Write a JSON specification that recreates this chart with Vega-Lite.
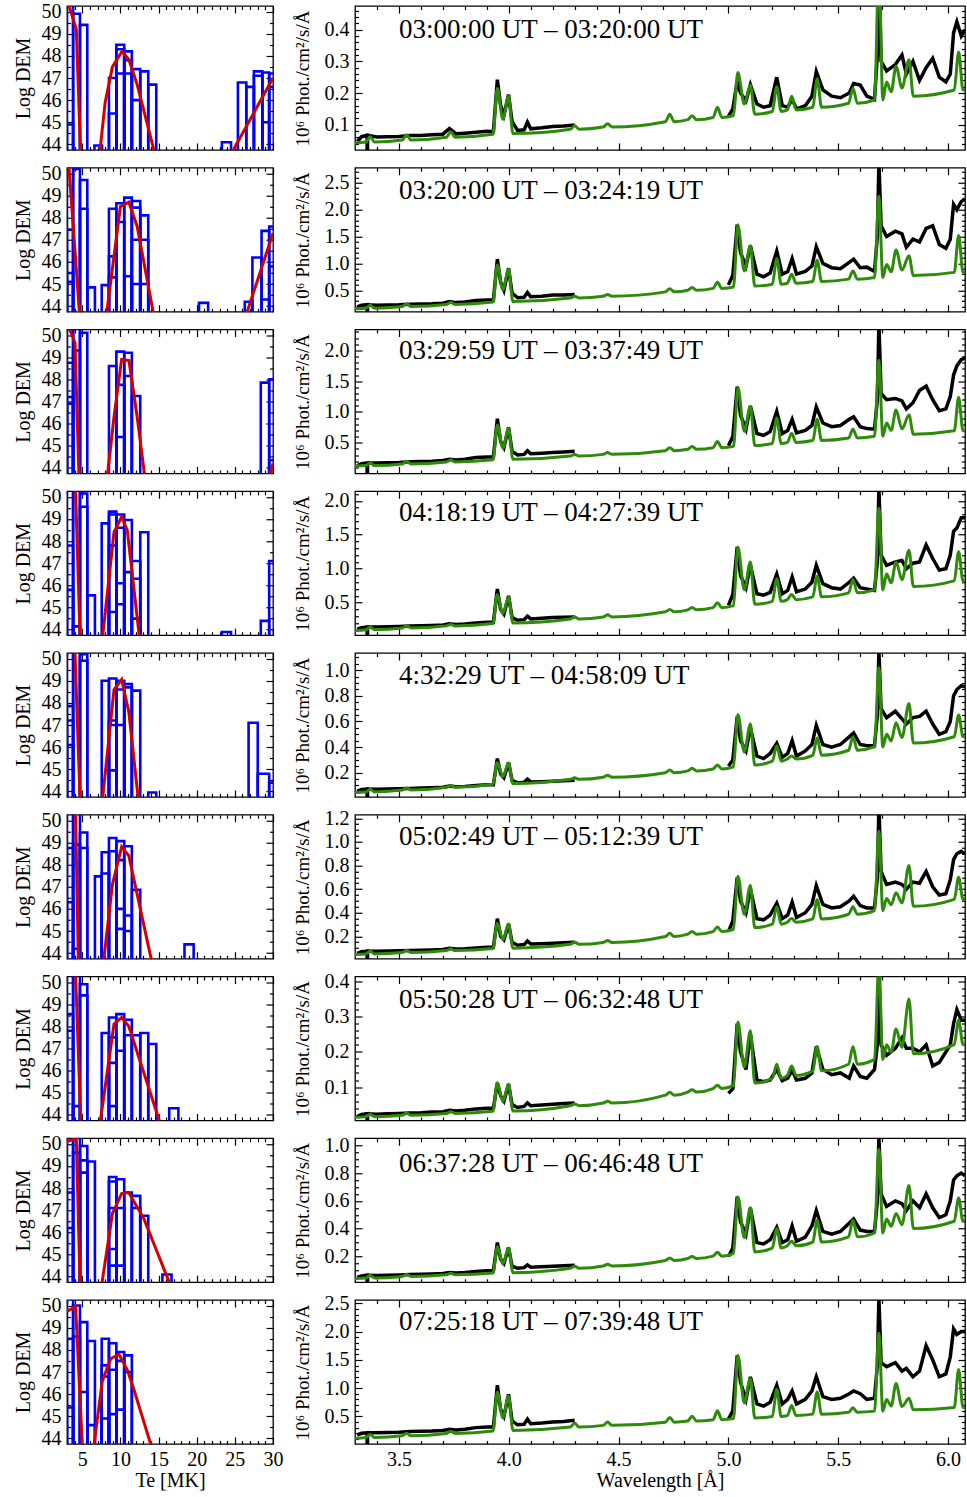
{
"$schema":"https://vega.github.io/schema/vega-lite/v6.json",
"autosize":{"type":"pad"},
"padding":{"left":12,"top":0,"right":1,"bottom":2},
"config":{
 "font":"Liberation Serif",
 "view":{"stroke":"#000000","strokeWidth":1.3},
 "axis":{"domain":false,"grid":false,"tickColor":"#000000","tickWidth":1.2,"labelFontSize":20,"labelColor":"#000000","labelFont":"Liberation Serif","titleFont":"Liberation Serif","titleFontSize":20,"titleFontWeight":"normal","titleColor":"#000000","labelPadding":13,"labelOverlap":false,"labelFlush":false,"labelBound":false},
 "title":{"font":"Liberation Serif","fontSize":27,"fontWeight":"normal","color":"#000000"}
},
"columns":2,
"bounds":"flush",
"spacing":{"row":17.75,"column":82},
"datasets":{
"dem":[
{"p":1,"a":3.0,"b":3.8,"t":50.4},{"p":1,"a":3.0,"b":3.8,"t":44.9},{"p":1,"a":3.8,"b":4.7,"t":49.9},{"p":1,"a":4.7,"b":5.66,"t":49.4},{"p":1,"a":6.6,"b":7.6,"t":43.95},{"p":1,"a":8.5,"b":9.47,"t":47.0},{"p":1,"a":8.5,"b":9.47,"t":45.4},{"p":1,"a":9.47,"b":10.5,"t":48.5},{"p":1,"a":9.47,"b":10.5,"t":48.3},{"p":1,"a":9.47,"b":10.5,"t":47.2},{"p":1,"a":10.5,"b":11.5,"t":48.2},{"p":1,"a":10.5,"b":11.5,"t":47.8},{"p":1,"a":10.5,"b":11.5,"t":47.2},{"p":1,"a":11.5,"b":12.6,"t":47.4},{"p":1,"a":11.5,"b":12.6,"t":46.0},{"p":1,"a":12.6,"b":13.65,"t":47.3},{"p":1,"a":13.65,"b":14.7,"t":46.7},{"p":1,"a":23.3,"b":24.5,"t":44.1},{"p":1,"a":25.4,"b":26.5,"t":46.8},{"p":1,"a":26.5,"b":27.5,"t":46.6},{"p":1,"a":27.5,"b":28.6,"t":47.3},{"p":1,"a":27.5,"b":28.6,"t":47.1},{"p":1,"a":28.6,"b":29.5,"t":47.25},{"p":1,"a":28.6,"b":29.5,"t":45.0},{"p":1,"a":29.5,"b":30.5,"t":47.2},{"p":1,"a":29.5,"b":30.5,"t":46.6},
{"p":2,"a":3.0,"b":3.8,"t":50.4},{"p":2,"a":3.0,"b":3.8,"t":47.45},{"p":2,"a":3.0,"b":3.8,"t":45.5},{"p":2,"a":3.0,"b":3.8,"t":45.1},{"p":2,"a":3.8,"b":4.7,"t":50.2},{"p":2,"a":4.7,"b":5.66,"t":49.7},{"p":2,"a":4.7,"b":5.66,"t":48.4},{"p":2,"a":5.66,"b":6.66,"t":44.85},{"p":2,"a":7.55,"b":8.5,"t":44.95},{"p":2,"a":8.5,"b":9.47,"t":48.4},{"p":2,"a":8.5,"b":9.47,"t":46.25},{"p":2,"a":8.5,"b":9.47,"t":45.3},{"p":2,"a":9.47,"b":10.5,"t":48.65},{"p":2,"a":9.47,"b":10.5,"t":47.8},{"p":2,"a":10.5,"b":11.5,"t":48.9},{"p":2,"a":10.5,"b":11.5,"t":45.35},{"p":2,"a":11.5,"b":12.6,"t":48.75},{"p":2,"a":11.5,"b":12.6,"t":48.45},{"p":2,"a":11.5,"b":12.6,"t":47.0},{"p":2,"a":11.5,"b":12.6,"t":45.0},{"p":2,"a":12.6,"b":13.65,"t":48.1},{"p":2,"a":12.6,"b":13.65,"t":47.0},{"p":2,"a":12.6,"b":13.65,"t":45.0},{"p":2,"a":20.3,"b":21.5,"t":44.15},{"p":2,"a":26.3,"b":27.3,"t":44.2},{"p":2,"a":27.3,"b":28.5,"t":46.2},{"p":2,"a":28.5,"b":29.5,"t":47.4},{"p":2,"a":28.5,"b":29.5,"t":44.3},{"p":2,"a":29.5,"b":30.5,"t":47.6},{"p":2,"a":29.5,"b":30.5,"t":45.8},
{"p":3,"a":3.0,"b":3.8,"t":50.4},{"p":3,"a":3.0,"b":3.8,"t":48.75},{"p":3,"a":3.0,"b":3.8,"t":47.2},{"p":3,"a":3.0,"b":3.8,"t":46.9},{"p":3,"a":3.8,"b":4.7,"t":50.3},{"p":3,"a":3.8,"b":4.7,"t":49.3},{"p":3,"a":4.7,"b":5.66,"t":50.1},{"p":3,"a":8.5,"b":9.47,"t":48.6},{"p":3,"a":9.47,"b":10.5,"t":49.25},{"p":3,"a":9.47,"b":10.5,"t":47.75},{"p":3,"a":9.47,"b":10.5,"t":45.4},{"p":3,"a":10.5,"b":11.5,"t":49.2},{"p":3,"a":10.5,"b":11.5,"t":48.15},{"p":3,"a":11.5,"b":12.6,"t":47.25},{"p":3,"a":28.4,"b":29.5,"t":47.85},{"p":3,"a":29.5,"b":30.5,"t":48.0},{"p":3,"a":29.5,"b":30.5,"t":44.35},
{"p":4,"a":3.0,"b":3.8,"t":50.4},{"p":4,"a":3.0,"b":3.8,"t":47.8},{"p":4,"a":3.0,"b":3.8,"t":45.8},{"p":4,"a":3.8,"b":4.7,"t":50.4},{"p":4,"a":3.8,"b":4.7,"t":44.15},{"p":4,"a":4.7,"b":5.66,"t":50.15},{"p":4,"a":4.7,"b":5.66,"t":49.55},{"p":4,"a":5.66,"b":6.66,"t":45.55},{"p":4,"a":7.55,"b":8.5,"t":48.8},{"p":4,"a":8.5,"b":9.47,"t":49.33},{"p":4,"a":8.5,"b":9.47,"t":49.2},{"p":4,"a":8.5,"b":9.47,"t":47.8},{"p":4,"a":8.5,"b":9.47,"t":44.8},{"p":4,"a":9.47,"b":10.5,"t":49.2},{"p":4,"a":9.47,"b":10.5,"t":48.6},{"p":4,"a":9.47,"b":10.5,"t":46.1},{"p":4,"a":9.47,"b":10.5,"t":45.15},{"p":4,"a":10.5,"b":11.5,"t":48.95},{"p":4,"a":10.5,"b":11.5,"t":46.6},{"p":4,"a":11.5,"b":12.6,"t":47.1},{"p":4,"a":11.5,"b":12.6,"t":46.3},{"p":4,"a":11.5,"b":12.6,"t":44.5},{"p":4,"a":12.6,"b":13.65,"t":48.4},{"p":4,"a":23.3,"b":24.5,"t":43.9},{"p":4,"a":28.4,"b":29.5,"t":44.4},{"p":4,"a":29.5,"b":30.5,"t":47.1},
{"p":5,"a":3.0,"b":3.8,"t":50.4},{"p":5,"a":3.0,"b":3.8,"t":47.85},{"p":5,"a":3.0,"b":3.8,"t":47.2},{"p":5,"a":3.0,"b":3.8,"t":46.1},{"p":5,"a":3.8,"b":4.7,"t":50.4},{"p":5,"a":4.7,"b":5.66,"t":50.2},{"p":5,"a":4.7,"b":5.66,"t":49.9},{"p":5,"a":7.55,"b":8.5,"t":49.0},{"p":5,"a":8.5,"b":9.47,"t":49.1},{"p":5,"a":8.5,"b":9.47,"t":47.2},{"p":5,"a":8.5,"b":9.47,"t":47.0},{"p":5,"a":8.5,"b":9.47,"t":44.95},{"p":5,"a":9.47,"b":10.5,"t":49.0},{"p":5,"a":9.47,"b":10.5,"t":48.6},{"p":5,"a":9.47,"b":10.5,"t":47.0},{"p":5,"a":10.5,"b":11.5,"t":48.85},{"p":5,"a":10.5,"b":11.5,"t":48.7},{"p":5,"a":11.5,"b":12.6,"t":48.55},{"p":5,"a":13.65,"b":14.7,"t":43.95},{"p":5,"a":26.8,"b":28.0,"t":47.1},{"p":5,"a":28.0,"b":29.5,"t":44.8},{"p":5,"a":29.5,"b":30.5,"t":44.4},
{"p":6,"a":3.0,"b":3.8,"t":50.4},{"p":6,"a":3.0,"b":3.8,"t":48.75},{"p":6,"a":3.0,"b":3.8,"t":46.3},{"p":6,"a":3.8,"b":4.7,"t":50.4},{"p":6,"a":3.8,"b":4.7,"t":48.9},{"p":6,"a":3.8,"b":4.7,"t":44.2},{"p":6,"a":4.7,"b":5.66,"t":49.45},{"p":6,"a":4.7,"b":5.66,"t":48.75},{"p":6,"a":6.66,"b":7.55,"t":47.47},{"p":6,"a":7.55,"b":8.5,"t":48.56},{"p":6,"a":7.55,"b":8.5,"t":47.6},{"p":6,"a":8.5,"b":9.47,"t":49.2},{"p":6,"a":8.5,"b":9.47,"t":48.6},{"p":6,"a":9.47,"b":10.5,"t":49.06},{"p":6,"a":9.47,"b":10.5,"t":48.2},{"p":6,"a":9.47,"b":10.5,"t":46.0},{"p":6,"a":9.47,"b":10.5,"t":45.1},{"p":6,"a":10.5,"b":11.5,"t":48.83},{"p":6,"a":10.5,"b":11.5,"t":45.7},{"p":6,"a":10.5,"b":11.5,"t":45.0},{"p":6,"a":11.5,"b":12.6,"t":46.86},{"p":6,"a":18.4,"b":19.6,"t":44.4},
{"p":7,"a":3.0,"b":3.8,"t":50.4},{"p":7,"a":3.0,"b":3.8,"t":48.55},{"p":7,"a":3.0,"b":3.8,"t":47.8},{"p":7,"a":3.8,"b":4.7,"t":50.4},{"p":7,"a":3.8,"b":4.7,"t":44.4},{"p":7,"a":4.7,"b":5.66,"t":49.9},{"p":7,"a":4.7,"b":5.66,"t":49.4},{"p":7,"a":7.55,"b":8.5,"t":47.7},{"p":7,"a":8.5,"b":9.47,"t":48.4},{"p":7,"a":8.5,"b":9.47,"t":47.5},{"p":7,"a":8.5,"b":9.47,"t":46.35},{"p":7,"a":8.5,"b":9.47,"t":44.4},{"p":7,"a":9.47,"b":10.5,"t":48.55},{"p":7,"a":9.47,"b":10.5,"t":46.9},{"p":7,"a":10.5,"b":11.5,"t":48.3},{"p":7,"a":10.5,"b":11.5,"t":47.6},{"p":7,"a":11.5,"b":12.6,"t":47.6},{"p":7,"a":12.6,"b":13.65,"t":47.7},{"p":7,"a":13.65,"b":14.7,"t":47.2},{"p":7,"a":16.4,"b":17.6,"t":44.3},
{"p":8,"a":3.0,"b":3.8,"t":50.4},{"p":8,"a":3.0,"b":3.8,"t":47.8},{"p":8,"a":3.0,"b":3.8,"t":46.2},{"p":8,"a":3.8,"b":4.7,"t":50.4},{"p":8,"a":3.8,"b":4.7,"t":49.6},{"p":8,"a":4.7,"b":5.66,"t":49.9},{"p":8,"a":4.7,"b":5.66,"t":49.25},{"p":8,"a":4.7,"b":5.66,"t":48.7},{"p":8,"a":5.66,"b":6.66,"t":49.2},{"p":8,"a":8.5,"b":9.47,"t":48.5},{"p":8,"a":8.5,"b":9.47,"t":48.3},{"p":8,"a":8.5,"b":9.47,"t":47.1},{"p":8,"a":8.5,"b":9.47,"t":45.25},{"p":8,"a":8.5,"b":9.47,"t":44.5},{"p":8,"a":9.47,"b":10.5,"t":48.4},{"p":8,"a":9.47,"b":10.5,"t":47.1},{"p":8,"a":9.47,"b":10.5,"t":44.5},{"p":8,"a":10.5,"b":11.5,"t":47.8},{"p":8,"a":11.5,"b":12.6,"t":47.65},{"p":8,"a":11.5,"b":12.6,"t":47.1},{"p":8,"a":12.6,"b":13.65,"t":46.75},{"p":8,"a":15.5,"b":16.7,"t":44.1},
{"p":9,"a":3.0,"b":3.8,"t":50.6},{"p":9,"a":3.0,"b":3.8,"t":48.5},{"p":9,"a":3.0,"b":3.8,"t":45.4},{"p":9,"a":3.8,"b":4.7,"t":50.0},{"p":9,"a":3.8,"b":4.7,"t":48.6},{"p":9,"a":4.7,"b":5.66,"t":49.25},{"p":9,"a":4.7,"b":5.66,"t":46.1},{"p":9,"a":5.66,"b":6.66,"t":48.4},{"p":9,"a":5.66,"b":6.66,"t":44.6},{"p":9,"a":7.55,"b":8.5,"t":48.5},{"p":9,"a":7.55,"b":8.5,"t":47.3},{"p":9,"a":7.55,"b":8.5,"t":46.8},{"p":9,"a":7.55,"b":8.5,"t":44.9},{"p":9,"a":8.5,"b":9.47,"t":48.3},{"p":9,"a":8.5,"b":9.47,"t":47.1},{"p":9,"a":8.5,"b":9.47,"t":45.1},{"p":9,"a":9.47,"b":10.5,"t":47.9},{"p":9,"a":9.47,"b":10.5,"t":47.5},{"p":9,"a":9.47,"b":10.5,"t":45.3},{"p":9,"a":10.5,"b":11.5,"t":47.75},{"p":9,"a":10.5,"b":11.5,"t":47.0}
],
"fit":[
{"p":1,"s":"a","t":3.0,"d":50.56},{"p":1,"s":"a","t":4.22,"d":49.2},{"p":1,"s":"a","t":4.84,"d":43.0},
{"p":1,"s":"b","t":7.1,"d":43.0},{"p":1,"s":"b","t":8.0,"d":45.9},{"p":1,"s":"b","t":8.95,"d":47.5},{"p":1,"s":"b","t":10.2,"d":48.2},{"p":1,"s":"b","t":11.1,"d":47.85},{"p":1,"s":"b","t":12.2,"d":46.7},{"p":1,"s":"b","t":14.95,"d":43.0},
{"p":1,"s":"c","t":23.6,"d":43.0},{"p":1,"s":"c","t":30.0,"d":47.0},
{"p":2,"s":"a","t":3.0,"d":51.5},{"p":2,"s":"a","t":4.78,"d":43.0},
{"p":2,"s":"b","t":7.94,"d":43.0},{"p":2,"s":"b","t":10.0,"d":48.5},{"p":2,"s":"b","t":11.1,"d":48.7},{"p":2,"s":"b","t":12.2,"d":47.6},{"p":2,"s":"b","t":14.69,"d":43.0},
{"p":2,"s":"c","t":25.9,"d":43.0},{"p":2,"s":"c","t":30.0,"d":47.3},
{"p":3,"s":"a","t":3.0,"d":50.58},{"p":3,"s":"a","t":4.05,"d":49.65},{"p":3,"s":"a","t":4.57,"d":43.6},{"p":3,"s":"a","t":4.62,"d":43.0},
{"p":3,"s":"b","t":8.08,"d":43.0},{"p":3,"s":"b","t":9.16,"d":46.3},{"p":3,"s":"b","t":10.16,"d":48.9},{"p":3,"s":"b","t":11.12,"d":48.85},{"p":3,"s":"b","t":12.2,"d":46.3},{"p":3,"s":"b","t":13.42,"d":43.0},
{"p":3,"s":"c","t":29.1,"d":43.0},{"p":3,"s":"c","t":30.0,"d":44.2},
{"p":4,"s":"a","t":4.06,"d":51.0},{"p":4,"s":"a","t":4.77,"d":43.0},
{"p":4,"s":"b","t":7.45,"d":43.0},{"p":4,"s":"b","t":9.16,"d":48.4},{"p":4,"s":"b","t":10.16,"d":49.1},{"p":4,"s":"b","t":10.9,"d":48.5},{"p":4,"s":"b","t":12.71,"d":43.0},
{"p":5,"s":"a","t":3.97,"d":51.0},{"p":5,"s":"a","t":4.78,"d":43.0},
{"p":5,"s":"b","t":7.46,"d":43.0},{"p":5,"s":"b","t":9.16,"d":48.6},{"p":5,"s":"b","t":10.16,"d":49.05},{"p":5,"s":"b","t":11.1,"d":47.6},{"p":5,"s":"b","t":12.55,"d":43.0},
{"p":6,"s":"a","t":4.09,"d":51.0},{"p":6,"s":"a","t":4.52,"d":43.0},
{"p":6,"s":"b","t":7.58,"d":43.0},{"p":6,"s":"b","t":8.95,"d":47.1},{"p":6,"s":"b","t":10.16,"d":48.8},{"p":6,"s":"b","t":11.1,"d":48.4},{"p":6,"s":"b","t":14.5,"d":43.0},
{"p":7,"s":"a","t":4.06,"d":51.0},{"p":7,"s":"a","t":4.88,"d":43.0},
{"p":7,"s":"b","t":7.07,"d":43.0},{"p":7,"s":"b","t":9.16,"d":48.1},{"p":7,"s":"b","t":10.16,"d":48.4},{"p":7,"s":"b","t":11.1,"d":48.0},{"p":7,"s":"b","t":15.8,"d":43.0},
{"p":8,"s":"a","t":3.0,"d":50.1},{"p":8,"s":"a","t":4.22,"d":50.25},{"p":8,"s":"a","t":4.76,"d":43.0},
{"p":8,"s":"b","t":7.27,"d":43.0},{"p":8,"s":"b","t":8.95,"d":46.85},{"p":8,"s":"b","t":10.16,"d":47.75},{"p":8,"s":"b","t":11.1,"d":47.8},{"p":8,"s":"b","t":13.1,"d":46.6},{"p":8,"s":"b","t":17.27,"d":43.0},
{"p":9,"s":"a","t":3.0,"d":49.75},{"p":9,"s":"a","t":4.13,"d":49.95},{"p":9,"s":"a","t":5.1,"d":43.0},
{"p":9,"s":"b","t":6.27,"d":43.0},{"p":9,"s":"b","t":7.63,"d":46.6},{"p":9,"s":"b","t":8.73,"d":47.6},{"p":9,"s":"b","t":9.8,"d":47.8},{"p":9,"s":"b","t":10.9,"d":47.1},{"p":9,"s":"b","t":11.78,"d":46.2},{"p":9,"s":"b","t":14.63,"d":43.0}
],
"spec":[
{"p":1,"s":"a","x":3.31,"y":0.047},{"p":1,"s":"a","x":3.33,"y":0.062},{"p":1,"s":"a","x":3.355,"y":0.066},{"p":1,"s":"a","x":3.356,"y":-1},{"p":1,"s":"a","x":3.357,"y":0.066},{"p":1,"s":"a","x":3.4,"y":0.061},{"p":1,"s":"a","x":3.45,"y":0.062},{"p":1,"s":"a","x":3.5,"y":0.063},{"p":1,"s":"a","x":3.55,"y":0.066},{"p":1,"s":"a","x":3.6,"y":0.066},{"p":1,"s":"a","x":3.65,"y":0.068},{"p":1,"s":"a","x":3.7,"y":0.07},{"p":1,"s":"a","x":3.73,"y":0.088},{"p":1,"s":"a","x":3.76,"y":0.071},{"p":1,"s":"a","x":3.8,"y":0.073},{"p":1,"s":"a","x":3.85,"y":0.076},{"p":1,"s":"a","x":3.9,"y":0.079},{"p":1,"s":"a","x":3.93,"y":0.078},{"p":1,"s":"a","x":3.948,"y":0.242},{"p":1,"s":"a","x":3.963,"y":0.16},{"p":1,"s":"a","x":3.978,"y":0.13},{"p":1,"s":"a","x":3.999,"y":0.195},{"p":1,"s":"a","x":4.015,"y":0.11},{"p":1,"s":"a","x":4.04,"y":0.082},{"p":1,"s":"a","x":4.07,"y":0.084},{"p":1,"s":"a","x":4.085,"y":0.108},{"p":1,"s":"a","x":4.1,"y":0.087},{"p":1,"s":"a","x":4.15,"y":0.09},{"p":1,"s":"a","x":4.2,"y":0.094},{"p":1,"s":"a","x":4.25,"y":0.096},{"p":1,"s":"a","x":4.3,"y":0.099},
{"p":1,"s":"b","x":5.0,"y":0.126},{"p":1,"s":"b","x":5.02,"y":0.15},{"p":1,"s":"b","x":5.04,"y":0.237},{"p":1,"s":"b","x":5.055,"y":0.2},{"p":1,"s":"b","x":5.08,"y":0.175},{"p":1,"s":"b","x":5.1,"y":0.226},{"p":1,"s":"b","x":5.13,"y":0.165},{"p":1,"s":"b","x":5.16,"y":0.155},{"p":1,"s":"b","x":5.19,"y":0.16},{"p":1,"s":"b","x":5.22,"y":0.25},{"p":1,"s":"b","x":5.245,"y":0.16},{"p":1,"s":"b","x":5.27,"y":0.155},{"p":1,"s":"b","x":5.29,"y":0.18},{"p":1,"s":"b","x":5.31,"y":0.15},{"p":1,"s":"b","x":5.35,"y":0.16},{"p":1,"s":"b","x":5.38,"y":0.19},{"p":1,"s":"b","x":5.4,"y":0.268},{"p":1,"s":"b","x":5.43,"y":0.21},{"p":1,"s":"b","x":5.47,"y":0.19},{"p":1,"s":"b","x":5.51,"y":0.185},{"p":1,"s":"b","x":5.55,"y":0.2},{"p":1,"s":"b","x":5.57,"y":0.23},{"p":1,"s":"b","x":5.6,"y":0.225},{"p":1,"s":"b","x":5.63,"y":0.19},{"p":1,"s":"b","x":5.665,"y":0.18},{"p":1,"s":"b","x":5.678,"y":0.32},{"p":1,"s":"b","x":5.685,"y":0.6},{"p":1,"s":"b","x":5.695,"y":0.3},{"p":1,"s":"b","x":5.72,"y":0.27},{"p":1,"s":"b","x":5.76,"y":0.29},{"p":1,"s":"b","x":5.79,"y":0.32},{"p":1,"s":"b","x":5.81,"y":0.26},{"p":1,"s":"b","x":5.84,"y":0.3},{"p":1,"s":"b","x":5.87,"y":0.24},{"p":1,"s":"b","x":5.9,"y":0.28},{"p":1,"s":"b","x":5.93,"y":0.31},{"p":1,"s":"b","x":5.96,"y":0.25},{"p":1,"s":"b","x":5.99,"y":0.235},{"p":1,"s":"b","x":6.01,"y":0.26},{"p":1,"s":"b","x":6.025,"y":0.39},{"p":1,"s":"b","x":6.04,"y":0.425},{"p":1,"s":"b","x":6.06,"y":0.38},{"p":1,"s":"b","x":6.077,"y":0.4},
{"p":1,"s":"m","x":3.3,"y":0.042},{"p":1,"s":"m","x":3.349,"y":0.045},{"p":1,"s":"m","x":3.369,"y":0.062},{"p":1,"s":"m","x":3.389,"y":0.045},{"p":1,"s":"m","x":3.515,"y":0.0515},{"p":1,"s":"m","x":3.535,"y":0.068},{"p":1,"s":"m","x":3.555,"y":0.0515},{"p":1,"s":"m","x":3.716,"y":0.0604},{"p":1,"s":"m","x":3.736,"y":0.078},{"p":1,"s":"m","x":3.756,"y":0.0604},{"p":1,"s":"m","x":3.928,"y":0.0697},{"p":1,"s":"m","x":3.948,"y":0.215},{"p":1,"s":"m","x":3.973,"y":0.117},{"p":1,"s":"m","x":3.999,"y":0.19},{"p":1,"s":"m","x":4.019,"y":0.072},{"p":1,"s":"m","x":4.28,"y":0.0858},{"p":1,"s":"m","x":4.3,"y":0.097},{"p":1,"s":"m","x":4.32,"y":0.0858},{"p":1,"s":"m","x":4.43,"y":0.0927},{"p":1,"s":"m","x":4.45,"y":0.103},{"p":1,"s":"m","x":4.47,"y":0.0927},{"p":1,"s":"m","x":4.713,"y":0.1094},{"p":1,"s":"m","x":4.733,"y":0.133},{"p":1,"s":"m","x":4.753,"y":0.1094},{"p":1,"s":"m","x":4.815,"y":0.1158},{"p":1,"s":"m","x":4.835,"y":0.128},{"p":1,"s":"m","x":4.855,"y":0.1158},{"p":1,"s":"m","x":4.93,"y":0.1229},{"p":1,"s":"m","x":4.95,"y":0.155},{"p":1,"s":"m","x":4.97,"y":0.1229},{"p":1,"s":"m","x":5.023,"y":0.1291},{"p":1,"s":"m","x":5.043,"y":0.265},{"p":1,"s":"m","x":5.072,"y":0.165},{"p":1,"s":"m","x":5.1,"y":0.225},{"p":1,"s":"m","x":5.12,"y":0.1332},{"p":1,"s":"m","x":5.2,"y":0.1418},{"p":1,"s":"m","x":5.22,"y":0.22},{"p":1,"s":"m","x":5.24,"y":0.1418},{"p":1,"s":"m","x":5.268,"y":0.1467},{"p":1,"s":"m","x":5.288,"y":0.19},{"p":1,"s":"m","x":5.308,"y":0.1467},{"p":1,"s":"m","x":5.384,"y":0.1551},{"p":1,"s":"m","x":5.404,"y":0.245},{"p":1,"s":"m","x":5.424,"y":0.1551},{"p":1,"s":"m","x":5.547,"y":0.1678},{"p":1,"s":"m","x":5.567,"y":0.215},{"p":1,"s":"m","x":5.587,"y":0.1678},{"p":1,"s":"m","x":5.665,"y":0.178},{"p":1,"s":"m","x":5.685,"y":0.6},{"p":1,"s":"m","x":5.703,"y":0.178},{"p":1,"s":"m","x":5.72,"y":0.235},{"p":1,"s":"m","x":5.741,"y":0.204},{"p":1,"s":"m","x":5.763,"y":0.285},{"p":1,"s":"m","x":5.79,"y":0.216},{"p":1,"s":"m","x":5.822,"y":0.305},{"p":1,"s":"m","x":5.842,"y":0.1899},{"p":1,"s":"m","x":6.028,"y":0.2095},{"p":1,"s":"m","x":6.048,"y":0.33},{"p":1,"s":"m","x":6.068,"y":0.2095},{"p":1,"s":"m","x":6.077,"y":0.212},
{"p":2,"s":"a","x":3.31,"y":0.19},{"p":2,"s":"a","x":3.33,"y":0.22},{"p":2,"s":"a","x":3.355,"y":0.23},{"p":2,"s":"a","x":3.356,"y":-1},{"p":2,"s":"a","x":3.357,"y":0.23},{"p":2,"s":"a","x":3.4,"y":0.22},{"p":2,"s":"a","x":3.45,"y":0.225},{"p":2,"s":"a","x":3.5,"y":0.23},{"p":2,"s":"a","x":3.55,"y":0.24},{"p":2,"s":"a","x":3.6,"y":0.245},{"p":2,"s":"a","x":3.65,"y":0.25},{"p":2,"s":"a","x":3.7,"y":0.26},{"p":2,"s":"a","x":3.73,"y":0.29},{"p":2,"s":"a","x":3.76,"y":0.27},{"p":2,"s":"a","x":3.8,"y":0.28},{"p":2,"s":"a","x":3.85,"y":0.31},{"p":2,"s":"a","x":3.9,"y":0.32},{"p":2,"s":"a","x":3.93,"y":0.32},{"p":2,"s":"a","x":3.948,"y":1.08},{"p":2,"s":"a","x":3.963,"y":0.65},{"p":2,"s":"a","x":3.978,"y":0.5},{"p":2,"s":"a","x":3.999,"y":0.91},{"p":2,"s":"a","x":4.015,"y":0.45},{"p":2,"s":"a","x":4.04,"y":0.36},{"p":2,"s":"a","x":4.07,"y":0.37},{"p":2,"s":"a","x":4.085,"y":0.46},{"p":2,"s":"a","x":4.1,"y":0.38},{"p":2,"s":"a","x":4.15,"y":0.39},{"p":2,"s":"a","x":4.2,"y":0.41},{"p":2,"s":"a","x":4.25,"y":0.41},{"p":2,"s":"a","x":4.3,"y":0.42},
{"p":2,"s":"b","x":5.0,"y":0.6},{"p":2,"s":"b","x":5.02,"y":0.78},{"p":2,"s":"b","x":5.04,"y":1.72},{"p":2,"s":"b","x":5.055,"y":1.2},{"p":2,"s":"b","x":5.08,"y":0.95},{"p":2,"s":"b","x":5.1,"y":1.33},{"p":2,"s":"b","x":5.13,"y":0.8},{"p":2,"s":"b","x":5.16,"y":0.75},{"p":2,"s":"b","x":5.19,"y":0.82},{"p":2,"s":"b","x":5.22,"y":1.23},{"p":2,"s":"b","x":5.245,"y":0.8},{"p":2,"s":"b","x":5.27,"y":0.85},{"p":2,"s":"b","x":5.29,"y":1.09},{"p":2,"s":"b","x":5.31,"y":0.8},{"p":2,"s":"b","x":5.35,"y":0.85},{"p":2,"s":"b","x":5.38,"y":0.95},{"p":2,"s":"b","x":5.4,"y":1.31},{"p":2,"s":"b","x":5.43,"y":1.0},{"p":2,"s":"b","x":5.47,"y":0.92},{"p":2,"s":"b","x":5.51,"y":0.9},{"p":2,"s":"b","x":5.55,"y":1.02},{"p":2,"s":"b","x":5.57,"y":1.08},{"p":2,"s":"b","x":5.6,"y":0.92},{"p":2,"s":"b","x":5.63,"y":0.93},{"p":2,"s":"b","x":5.665,"y":0.85},{"p":2,"s":"b","x":5.678,"y":1.5},{"p":2,"s":"b","x":5.685,"y":2.9},{"p":2,"s":"b","x":5.695,"y":1.7},{"p":2,"s":"b","x":5.72,"y":1.5},{"p":2,"s":"b","x":5.76,"y":1.6},{"p":2,"s":"b","x":5.79,"y":1.55},{"p":2,"s":"b","x":5.81,"y":1.3},{"p":2,"s":"b","x":5.84,"y":1.45},{"p":2,"s":"b","x":5.87,"y":1.4},{"p":2,"s":"b","x":5.9,"y":1.65},{"p":2,"s":"b","x":5.93,"y":1.7},{"p":2,"s":"b","x":5.96,"y":1.35},{"p":2,"s":"b","x":5.99,"y":1.28},{"p":2,"s":"b","x":6.01,"y":1.45},{"p":2,"s":"b","x":6.025,"y":2.1},{"p":2,"s":"b","x":6.04,"y":2.0},{"p":2,"s":"b","x":6.06,"y":2.15},{"p":2,"s":"b","x":6.077,"y":2.2},
{"p":2,"s":"m","x":3.3,"y":0.155},{"p":2,"s":"m","x":3.349,"y":0.167},{"p":2,"s":"m","x":3.369,"y":0.22},{"p":2,"s":"m","x":3.389,"y":0.167},{"p":2,"s":"m","x":3.515,"y":0.197},{"p":2,"s":"m","x":3.535,"y":0.25},{"p":2,"s":"m","x":3.555,"y":0.197},{"p":2,"s":"m","x":3.716,"y":0.237},{"p":2,"s":"m","x":3.736,"y":0.27},{"p":2,"s":"m","x":3.756,"y":0.237},{"p":2,"s":"m","x":3.928,"y":0.28},{"p":2,"s":"m","x":3.948,"y":0.97},{"p":2,"s":"m","x":3.973,"y":0.51},{"p":2,"s":"m","x":3.999,"y":0.89},{"p":2,"s":"m","x":4.019,"y":0.29},{"p":2,"s":"m","x":4.28,"y":0.356},{"p":2,"s":"m","x":4.3,"y":0.39},{"p":2,"s":"m","x":4.32,"y":0.356},{"p":2,"s":"m","x":4.43,"y":0.389},{"p":2,"s":"m","x":4.45,"y":0.42},{"p":2,"s":"m","x":4.47,"y":0.389},{"p":2,"s":"m","x":4.713,"y":0.47},{"p":2,"s":"m","x":4.733,"y":0.53},{"p":2,"s":"m","x":4.753,"y":0.47},{"p":2,"s":"m","x":4.815,"y":0.5},{"p":2,"s":"m","x":4.835,"y":0.55},{"p":2,"s":"m","x":4.855,"y":0.5},{"p":2,"s":"m","x":4.93,"y":0.535},{"p":2,"s":"m","x":4.95,"y":0.65},{"p":2,"s":"m","x":4.97,"y":0.535},{"p":2,"s":"m","x":5.023,"y":0.562},{"p":2,"s":"m","x":5.043,"y":1.72},{"p":2,"s":"m","x":5.072,"y":0.86},{"p":2,"s":"m","x":5.1,"y":1.33},{"p":2,"s":"m","x":5.12,"y":0.578},{"p":2,"s":"m","x":5.2,"y":0.612},{"p":2,"s":"m","x":5.22,"y":1.09},{"p":2,"s":"m","x":5.24,"y":0.612},{"p":2,"s":"m","x":5.268,"y":0.631},{"p":2,"s":"m","x":5.288,"y":0.8},{"p":2,"s":"m","x":5.308,"y":0.631},{"p":2,"s":"m","x":5.384,"y":0.663},{"p":2,"s":"m","x":5.404,"y":1.06},{"p":2,"s":"m","x":5.424,"y":0.663},{"p":2,"s":"m","x":5.547,"y":0.707},{"p":2,"s":"m","x":5.567,"y":0.86},{"p":2,"s":"m","x":5.587,"y":0.707},{"p":2,"s":"m","x":5.665,"y":0.738},{"p":2,"s":"m","x":5.685,"y":2.25},{"p":2,"s":"m","x":5.703,"y":0.738},{"p":2,"s":"m","x":5.72,"y":0.98},{"p":2,"s":"m","x":5.741,"y":0.843},{"p":2,"s":"m","x":5.763,"y":1.25},{"p":2,"s":"m","x":5.79,"y":0.878},{"p":2,"s":"m","x":5.822,"y":1.14},{"p":2,"s":"m","x":5.842,"y":0.774},{"p":2,"s":"m","x":6.028,"y":0.833},{"p":2,"s":"m","x":6.048,"y":1.52},{"p":2,"s":"m","x":6.068,"y":0.833},{"p":2,"s":"m","x":6.077,"y":0.84},
{"p":3,"s":"a","x":3.31,"y":0.13},{"p":3,"s":"a","x":3.33,"y":0.16},{"p":3,"s":"a","x":3.355,"y":0.17},{"p":3,"s":"a","x":3.356,"y":-1},{"p":3,"s":"a","x":3.357,"y":0.17},{"p":3,"s":"a","x":3.4,"y":0.17},{"p":3,"s":"a","x":3.45,"y":0.175},{"p":3,"s":"a","x":3.5,"y":0.18},{"p":3,"s":"a","x":3.55,"y":0.19},{"p":3,"s":"a","x":3.6,"y":0.195},{"p":3,"s":"a","x":3.65,"y":0.2},{"p":3,"s":"a","x":3.7,"y":0.21},{"p":3,"s":"a","x":3.73,"y":0.23},{"p":3,"s":"a","x":3.76,"y":0.22},{"p":3,"s":"a","x":3.8,"y":0.23},{"p":3,"s":"a","x":3.85,"y":0.26},{"p":3,"s":"a","x":3.9,"y":0.27},{"p":3,"s":"a","x":3.93,"y":0.27},{"p":3,"s":"a","x":3.948,"y":0.89},{"p":3,"s":"a","x":3.963,"y":0.52},{"p":3,"s":"a","x":3.978,"y":0.42},{"p":3,"s":"a","x":3.999,"y":0.75},{"p":3,"s":"a","x":4.015,"y":0.36},{"p":3,"s":"a","x":4.04,"y":0.3},{"p":3,"s":"a","x":4.07,"y":0.31},{"p":3,"s":"a","x":4.085,"y":0.37},{"p":3,"s":"a","x":4.1,"y":0.32},{"p":3,"s":"a","x":4.15,"y":0.33},{"p":3,"s":"a","x":4.2,"y":0.34},{"p":3,"s":"a","x":4.25,"y":0.35},{"p":3,"s":"a","x":4.3,"y":0.36},
{"p":3,"s":"b","x":5.0,"y":0.45},{"p":3,"s":"b","x":5.02,"y":0.6},{"p":3,"s":"b","x":5.04,"y":1.41},{"p":3,"s":"b","x":5.055,"y":0.95},{"p":3,"s":"b","x":5.08,"y":0.72},{"p":3,"s":"b","x":5.1,"y":1.1},{"p":3,"s":"b","x":5.13,"y":0.65},{"p":3,"s":"b","x":5.16,"y":0.62},{"p":3,"s":"b","x":5.19,"y":0.68},{"p":3,"s":"b","x":5.22,"y":1.01},{"p":3,"s":"b","x":5.245,"y":0.65},{"p":3,"s":"b","x":5.27,"y":0.7},{"p":3,"s":"b","x":5.29,"y":0.88},{"p":3,"s":"b","x":5.31,"y":0.66},{"p":3,"s":"b","x":5.35,"y":0.7},{"p":3,"s":"b","x":5.38,"y":0.78},{"p":3,"s":"b","x":5.4,"y":1.08},{"p":3,"s":"b","x":5.43,"y":0.82},{"p":3,"s":"b","x":5.47,"y":0.76},{"p":3,"s":"b","x":5.51,"y":0.78},{"p":3,"s":"b","x":5.55,"y":0.88},{"p":3,"s":"b","x":5.57,"y":0.92},{"p":3,"s":"b","x":5.6,"y":0.76},{"p":3,"s":"b","x":5.63,"y":0.73},{"p":3,"s":"b","x":5.665,"y":0.72},{"p":3,"s":"b","x":5.678,"y":1.2},{"p":3,"s":"b","x":5.685,"y":2.45},{"p":3,"s":"b","x":5.695,"y":1.3},{"p":3,"s":"b","x":5.72,"y":1.2},{"p":3,"s":"b","x":5.76,"y":1.22},{"p":3,"s":"b","x":5.79,"y":1.18},{"p":3,"s":"b","x":5.81,"y":1.05},{"p":3,"s":"b","x":5.84,"y":1.15},{"p":3,"s":"b","x":5.87,"y":1.35},{"p":3,"s":"b","x":5.9,"y":1.42},{"p":3,"s":"b","x":5.93,"y":1.2},{"p":3,"s":"b","x":5.96,"y":1.02},{"p":3,"s":"b","x":5.99,"y":1.05},{"p":3,"s":"b","x":6.01,"y":1.25},{"p":3,"s":"b","x":6.025,"y":1.6},{"p":3,"s":"b","x":6.04,"y":1.75},{"p":3,"s":"b","x":6.06,"y":1.85},{"p":3,"s":"b","x":6.077,"y":1.88},
{"p":3,"s":"m","x":3.3,"y":0.12},{"p":3,"s":"m","x":3.349,"y":0.13},{"p":3,"s":"m","x":3.369,"y":0.17},{"p":3,"s":"m","x":3.389,"y":0.13},{"p":3,"s":"m","x":3.515,"y":0.156},{"p":3,"s":"m","x":3.535,"y":0.2},{"p":3,"s":"m","x":3.555,"y":0.156},{"p":3,"s":"m","x":3.716,"y":0.188},{"p":3,"s":"m","x":3.736,"y":0.22},{"p":3,"s":"m","x":3.756,"y":0.188},{"p":3,"s":"m","x":3.928,"y":0.222},{"p":3,"s":"m","x":3.948,"y":0.79},{"p":3,"s":"m","x":3.973,"y":0.413},{"p":3,"s":"m","x":3.999,"y":0.73},{"p":3,"s":"m","x":4.019,"y":0.23},{"p":3,"s":"m","x":4.28,"y":0.284},{"p":3,"s":"m","x":4.3,"y":0.31},{"p":3,"s":"m","x":4.32,"y":0.284},{"p":3,"s":"m","x":4.43,"y":0.311},{"p":3,"s":"m","x":4.45,"y":0.34},{"p":3,"s":"m","x":4.47,"y":0.311},{"p":3,"s":"m","x":4.713,"y":0.371},{"p":3,"s":"m","x":4.733,"y":0.42},{"p":3,"s":"m","x":4.753,"y":0.371},{"p":3,"s":"m","x":4.815,"y":0.394},{"p":3,"s":"m","x":4.835,"y":0.44},{"p":3,"s":"m","x":4.855,"y":0.394},{"p":3,"s":"m","x":4.93,"y":0.419},{"p":3,"s":"m","x":4.95,"y":0.52},{"p":3,"s":"m","x":4.97,"y":0.419},{"p":3,"s":"m","x":5.023,"y":0.441},{"p":3,"s":"m","x":5.043,"y":1.4},{"p":3,"s":"m","x":5.072,"y":0.687},{"p":3,"s":"m","x":5.1,"y":1.09},{"p":3,"s":"m","x":5.12,"y":0.456},{"p":3,"s":"m","x":5.2,"y":0.487},{"p":3,"s":"m","x":5.22,"y":0.9},{"p":3,"s":"m","x":5.24,"y":0.487},{"p":3,"s":"m","x":5.268,"y":0.505},{"p":3,"s":"m","x":5.288,"y":0.65},{"p":3,"s":"m","x":5.308,"y":0.505},{"p":3,"s":"m","x":5.384,"y":0.535},{"p":3,"s":"m","x":5.404,"y":0.88},{"p":3,"s":"m","x":5.424,"y":0.535},{"p":3,"s":"m","x":5.547,"y":0.576},{"p":3,"s":"m","x":5.567,"y":0.72},{"p":3,"s":"m","x":5.587,"y":0.576},{"p":3,"s":"m","x":5.665,"y":0.605},{"p":3,"s":"m","x":5.685,"y":1.84},{"p":3,"s":"m","x":5.703,"y":0.605},{"p":3,"s":"m","x":5.72,"y":0.82},{"p":3,"s":"m","x":5.741,"y":0.699},{"p":3,"s":"m","x":5.763,"y":1.03},{"p":3,"s":"m","x":5.79,"y":0.726},{"p":3,"s":"m","x":5.822,"y":0.95},{"p":3,"s":"m","x":5.842,"y":0.638},{"p":3,"s":"m","x":6.028,"y":0.693},{"p":3,"s":"m","x":6.048,"y":1.24},{"p":3,"s":"m","x":6.068,"y":0.693},{"p":3,"s":"m","x":6.077,"y":0.7},
{"p":4,"s":"a","x":3.31,"y":0.11},{"p":4,"s":"a","x":3.33,"y":0.13},{"p":4,"s":"a","x":3.355,"y":0.14},{"p":4,"s":"a","x":3.356,"y":-1},{"p":4,"s":"a","x":3.357,"y":0.14},{"p":4,"s":"a","x":3.4,"y":0.14},{"p":4,"s":"a","x":3.45,"y":0.145},{"p":4,"s":"a","x":3.5,"y":0.15},{"p":4,"s":"a","x":3.55,"y":0.155},{"p":4,"s":"a","x":3.6,"y":0.16},{"p":4,"s":"a","x":3.65,"y":0.165},{"p":4,"s":"a","x":3.7,"y":0.17},{"p":4,"s":"a","x":3.73,"y":0.19},{"p":4,"s":"a","x":3.76,"y":0.18},{"p":4,"s":"a","x":3.8,"y":0.185},{"p":4,"s":"a","x":3.85,"y":0.2},{"p":4,"s":"a","x":3.9,"y":0.21},{"p":4,"s":"a","x":3.93,"y":0.21},{"p":4,"s":"a","x":3.948,"y":0.7},{"p":4,"s":"a","x":3.963,"y":0.4},{"p":4,"s":"a","x":3.978,"y":0.33},{"p":4,"s":"a","x":3.999,"y":0.6},{"p":4,"s":"a","x":4.015,"y":0.28},{"p":4,"s":"a","x":4.04,"y":0.24},{"p":4,"s":"a","x":4.07,"y":0.25},{"p":4,"s":"a","x":4.085,"y":0.3},{"p":4,"s":"a","x":4.1,"y":0.26},{"p":4,"s":"a","x":4.15,"y":0.27},{"p":4,"s":"a","x":4.2,"y":0.28},{"p":4,"s":"a","x":4.25,"y":0.285},{"p":4,"s":"a","x":4.3,"y":0.29},
{"p":4,"s":"b","x":5.0,"y":0.46},{"p":4,"s":"b","x":5.02,"y":0.62},{"p":4,"s":"b","x":5.04,"y":1.32},{"p":4,"s":"b","x":5.055,"y":0.9},{"p":4,"s":"b","x":5.08,"y":0.72},{"p":4,"s":"b","x":5.1,"y":1.05},{"p":4,"s":"b","x":5.13,"y":0.63},{"p":4,"s":"b","x":5.16,"y":0.61},{"p":4,"s":"b","x":5.19,"y":0.65},{"p":4,"s":"b","x":5.22,"y":0.92},{"p":4,"s":"b","x":5.245,"y":0.63},{"p":4,"s":"b","x":5.27,"y":0.68},{"p":4,"s":"b","x":5.29,"y":0.88},{"p":4,"s":"b","x":5.31,"y":0.66},{"p":4,"s":"b","x":5.35,"y":0.7},{"p":4,"s":"b","x":5.38,"y":0.8},{"p":4,"s":"b","x":5.4,"y":1.05},{"p":4,"s":"b","x":5.43,"y":0.78},{"p":4,"s":"b","x":5.47,"y":0.72},{"p":4,"s":"b","x":5.51,"y":0.7},{"p":4,"s":"b","x":5.55,"y":0.8},{"p":4,"s":"b","x":5.57,"y":0.86},{"p":4,"s":"b","x":5.6,"y":0.72},{"p":4,"s":"b","x":5.63,"y":0.7},{"p":4,"s":"b","x":5.665,"y":0.68},{"p":4,"s":"b","x":5.678,"y":1.1},{"p":4,"s":"b","x":5.685,"y":2.2},{"p":4,"s":"b","x":5.695,"y":1.2},{"p":4,"s":"b","x":5.72,"y":1.05},{"p":4,"s":"b","x":5.76,"y":1.1},{"p":4,"s":"b","x":5.79,"y":1.12},{"p":4,"s":"b","x":5.81,"y":1.0},{"p":4,"s":"b","x":5.84,"y":1.08},{"p":4,"s":"b","x":5.87,"y":1.1},{"p":4,"s":"b","x":5.9,"y":1.35},{"p":4,"s":"b","x":5.93,"y":1.15},{"p":4,"s":"b","x":5.96,"y":0.98},{"p":4,"s":"b","x":5.99,"y":1.0},{"p":4,"s":"b","x":6.01,"y":1.2},{"p":4,"s":"b","x":6.025,"y":1.55},{"p":4,"s":"b","x":6.04,"y":1.6},{"p":4,"s":"b","x":6.06,"y":1.75},{"p":4,"s":"b","x":6.077,"y":1.75},
{"p":4,"s":"m","x":3.3,"y":0.09},{"p":4,"s":"m","x":3.349,"y":0.1},{"p":4,"s":"m","x":3.369,"y":0.14},{"p":4,"s":"m","x":3.389,"y":0.1},{"p":4,"s":"m","x":3.515,"y":0.126},{"p":4,"s":"m","x":3.535,"y":0.16},{"p":4,"s":"m","x":3.555,"y":0.126},{"p":4,"s":"m","x":3.716,"y":0.158},{"p":4,"s":"m","x":3.736,"y":0.18},{"p":4,"s":"m","x":3.756,"y":0.158},{"p":4,"s":"m","x":3.928,"y":0.192},{"p":4,"s":"m","x":3.948,"y":0.62},{"p":4,"s":"m","x":3.973,"y":0.337},{"p":4,"s":"m","x":3.999,"y":0.58},{"p":4,"s":"m","x":4.019,"y":0.2},{"p":4,"s":"m","x":4.28,"y":0.26},{"p":4,"s":"m","x":4.3,"y":0.29},{"p":4,"s":"m","x":4.32,"y":0.26},{"p":4,"s":"m","x":4.43,"y":0.29},{"p":4,"s":"m","x":4.45,"y":0.32},{"p":4,"s":"m","x":4.47,"y":0.29},{"p":4,"s":"m","x":4.713,"y":0.365},{"p":4,"s":"m","x":4.733,"y":0.4},{"p":4,"s":"m","x":4.753,"y":0.365},{"p":4,"s":"m","x":4.815,"y":0.394},{"p":4,"s":"m","x":4.835,"y":0.43},{"p":4,"s":"m","x":4.855,"y":0.394},{"p":4,"s":"m","x":4.93,"y":0.426},{"p":4,"s":"m","x":4.95,"y":0.5},{"p":4,"s":"m","x":4.97,"y":0.426},{"p":4,"s":"m","x":5.023,"y":0.455},{"p":4,"s":"m","x":5.043,"y":1.32},{"p":4,"s":"m","x":5.072,"y":0.689},{"p":4,"s":"m","x":5.1,"y":1.1},{"p":4,"s":"m","x":5.12,"y":0.476},{"p":4,"s":"m","x":5.2,"y":0.519},{"p":4,"s":"m","x":5.22,"y":0.85},{"p":4,"s":"m","x":5.24,"y":0.519},{"p":4,"s":"m","x":5.268,"y":0.544},{"p":4,"s":"m","x":5.288,"y":0.62},{"p":4,"s":"m","x":5.308,"y":0.544},{"p":4,"s":"m","x":5.384,"y":0.585},{"p":4,"s":"m","x":5.404,"y":0.89},{"p":4,"s":"m","x":5.424,"y":0.585},{"p":4,"s":"m","x":5.547,"y":0.644},{"p":4,"s":"m","x":5.567,"y":0.84},{"p":4,"s":"m","x":5.587,"y":0.644},{"p":4,"s":"m","x":5.665,"y":0.687},{"p":4,"s":"m","x":5.685,"y":1.89},{"p":4,"s":"m","x":5.703,"y":0.687},{"p":4,"s":"m","x":5.72,"y":0.92},{"p":4,"s":"m","x":5.741,"y":0.793},{"p":4,"s":"m","x":5.763,"y":1.1},{"p":4,"s":"m","x":5.79,"y":0.838},{"p":4,"s":"m","x":5.822,"y":1.27},{"p":4,"s":"m","x":5.842,"y":0.737},{"p":4,"s":"m","x":6.028,"y":0.82},{"p":4,"s":"m","x":6.048,"y":1.25},{"p":4,"s":"m","x":6.068,"y":0.82},{"p":4,"s":"m","x":6.077,"y":0.83},
{"p":5,"s":"a","x":3.31,"y":0.055},{"p":5,"s":"a","x":3.33,"y":0.068},{"p":5,"s":"a","x":3.355,"y":0.072},{"p":5,"s":"a","x":3.356,"y":-1},{"p":5,"s":"a","x":3.357,"y":0.072},{"p":5,"s":"a","x":3.4,"y":0.07},{"p":5,"s":"a","x":3.45,"y":0.072},{"p":5,"s":"a","x":3.5,"y":0.074},{"p":5,"s":"a","x":3.55,"y":0.077},{"p":5,"s":"a","x":3.6,"y":0.08},{"p":5,"s":"a","x":3.65,"y":0.083},{"p":5,"s":"a","x":3.7,"y":0.086},{"p":5,"s":"a","x":3.73,"y":0.095},{"p":5,"s":"a","x":3.76,"y":0.09},{"p":5,"s":"a","x":3.8,"y":0.093},{"p":5,"s":"a","x":3.85,"y":0.1},{"p":5,"s":"a","x":3.9,"y":0.105},{"p":5,"s":"a","x":3.93,"y":0.105},{"p":5,"s":"a","x":3.948,"y":0.31},{"p":5,"s":"a","x":3.963,"y":0.19},{"p":5,"s":"a","x":3.978,"y":0.16},{"p":5,"s":"a","x":3.999,"y":0.28},{"p":5,"s":"a","x":4.015,"y":0.14},{"p":5,"s":"a","x":4.04,"y":0.12},{"p":5,"s":"a","x":4.07,"y":0.125},{"p":5,"s":"a","x":4.085,"y":0.15},{"p":5,"s":"a","x":4.1,"y":0.128},{"p":5,"s":"a","x":4.15,"y":0.13},{"p":5,"s":"a","x":4.2,"y":0.133},{"p":5,"s":"a","x":4.25,"y":0.136},{"p":5,"s":"a","x":4.3,"y":0.14},
{"p":5,"s":"b","x":5.0,"y":0.25},{"p":5,"s":"b","x":5.02,"y":0.3},{"p":5,"s":"b","x":5.04,"y":0.64},{"p":5,"s":"b","x":5.055,"y":0.45},{"p":5,"s":"b","x":5.08,"y":0.37},{"p":5,"s":"b","x":5.1,"y":0.55},{"p":5,"s":"b","x":5.13,"y":0.33},{"p":5,"s":"b","x":5.16,"y":0.31},{"p":5,"s":"b","x":5.19,"y":0.35},{"p":5,"s":"b","x":5.22,"y":0.43},{"p":5,"s":"b","x":5.245,"y":0.32},{"p":5,"s":"b","x":5.27,"y":0.35},{"p":5,"s":"b","x":5.29,"y":0.45},{"p":5,"s":"b","x":5.31,"y":0.33},{"p":5,"s":"b","x":5.35,"y":0.37},{"p":5,"s":"b","x":5.38,"y":0.42},{"p":5,"s":"b","x":5.4,"y":0.57},{"p":5,"s":"b","x":5.43,"y":0.42},{"p":5,"s":"b","x":5.47,"y":0.4},{"p":5,"s":"b","x":5.51,"y":0.42},{"p":5,"s":"b","x":5.55,"y":0.48},{"p":5,"s":"b","x":5.57,"y":0.51},{"p":5,"s":"b","x":5.6,"y":0.42},{"p":5,"s":"b","x":5.63,"y":0.41},{"p":5,"s":"b","x":5.665,"y":0.41},{"p":5,"s":"b","x":5.678,"y":0.65},{"p":5,"s":"b","x":5.685,"y":1.15},{"p":5,"s":"b","x":5.695,"y":0.7},{"p":5,"s":"b","x":5.72,"y":0.63},{"p":5,"s":"b","x":5.76,"y":0.68},{"p":5,"s":"b","x":5.79,"y":0.62},{"p":5,"s":"b","x":5.81,"y":0.58},{"p":5,"s":"b","x":5.84,"y":0.63},{"p":5,"s":"b","x":5.87,"y":0.64},{"p":5,"s":"b","x":5.9,"y":0.68},{"p":5,"s":"b","x":5.93,"y":0.58},{"p":5,"s":"b","x":5.96,"y":0.5},{"p":5,"s":"b","x":5.99,"y":0.52},{"p":5,"s":"b","x":6.01,"y":0.6},{"p":5,"s":"b","x":6.025,"y":0.8},{"p":5,"s":"b","x":6.04,"y":0.85},{"p":5,"s":"b","x":6.06,"y":0.88},{"p":5,"s":"b","x":6.077,"y":0.87},
{"p":5,"s":"m","x":3.3,"y":0.045},{"p":5,"s":"m","x":3.349,"y":0.05},{"p":5,"s":"m","x":3.369,"y":0.07},{"p":5,"s":"m","x":3.389,"y":0.05},{"p":5,"s":"m","x":3.515,"y":0.064},{"p":5,"s":"m","x":3.535,"y":0.08},{"p":5,"s":"m","x":3.555,"y":0.064},{"p":5,"s":"m","x":3.716,"y":0.086},{"p":5,"s":"m","x":3.736,"y":0.1},{"p":5,"s":"m","x":3.756,"y":0.086},{"p":5,"s":"m","x":3.928,"y":0.109},{"p":5,"s":"m","x":3.948,"y":0.28},{"p":5,"s":"m","x":3.973,"y":0.17},{"p":5,"s":"m","x":3.999,"y":0.275},{"p":5,"s":"m","x":4.019,"y":0.115},{"p":5,"s":"m","x":4.28,"y":0.148},{"p":5,"s":"m","x":4.3,"y":0.16},{"p":5,"s":"m","x":4.32,"y":0.148},{"p":5,"s":"m","x":4.43,"y":0.165},{"p":5,"s":"m","x":4.45,"y":0.18},{"p":5,"s":"m","x":4.47,"y":0.165},{"p":5,"s":"m","x":4.713,"y":0.2},{"p":5,"s":"m","x":4.733,"y":0.22},{"p":5,"s":"m","x":4.753,"y":0.2},{"p":5,"s":"m","x":4.815,"y":0.214},{"p":5,"s":"m","x":4.835,"y":0.235},{"p":5,"s":"m","x":4.855,"y":0.214},{"p":5,"s":"m","x":4.93,"y":0.229},{"p":5,"s":"m","x":4.95,"y":0.26},{"p":5,"s":"m","x":4.97,"y":0.229},{"p":5,"s":"m","x":5.023,"y":0.246},{"p":5,"s":"m","x":5.043,"y":0.655},{"p":5,"s":"m","x":5.072,"y":0.362},{"p":5,"s":"m","x":5.1,"y":0.58},{"p":5,"s":"m","x":5.12,"y":0.26},{"p":5,"s":"m","x":5.2,"y":0.29},{"p":5,"s":"m","x":5.22,"y":0.41},{"p":5,"s":"m","x":5.24,"y":0.29},{"p":5,"s":"m","x":5.268,"y":0.307},{"p":5,"s":"m","x":5.288,"y":0.33},{"p":5,"s":"m","x":5.308,"y":0.307},{"p":5,"s":"m","x":5.384,"y":0.336},{"p":5,"s":"m","x":5.404,"y":0.47},{"p":5,"s":"m","x":5.424,"y":0.336},{"p":5,"s":"m","x":5.547,"y":0.375},{"p":5,"s":"m","x":5.567,"y":0.48},{"p":5,"s":"m","x":5.587,"y":0.375},{"p":5,"s":"m","x":5.665,"y":0.401},{"p":5,"s":"m","x":5.685,"y":1.02},{"p":5,"s":"m","x":5.703,"y":0.401},{"p":5,"s":"m","x":5.72,"y":0.5},{"p":5,"s":"m","x":5.741,"y":0.448},{"p":5,"s":"m","x":5.763,"y":0.59},{"p":5,"s":"m","x":5.79,"y":0.474},{"p":5,"s":"m","x":5.822,"y":0.74},{"p":5,"s":"m","x":5.842,"y":0.431},{"p":5,"s":"m","x":6.028,"y":0.481},{"p":5,"s":"m","x":6.048,"y":0.65},{"p":5,"s":"m","x":6.068,"y":0.481},{"p":5,"s":"m","x":6.077,"y":0.487},
{"p":6,"s":"a","x":3.31,"y":0.055},{"p":6,"s":"a","x":3.33,"y":0.07},{"p":6,"s":"a","x":3.355,"y":0.075},{"p":6,"s":"a","x":3.356,"y":-1},{"p":6,"s":"a","x":3.357,"y":0.075},{"p":6,"s":"a","x":3.4,"y":0.073},{"p":6,"s":"a","x":3.45,"y":0.075},{"p":6,"s":"a","x":3.5,"y":0.077},{"p":6,"s":"a","x":3.55,"y":0.08},{"p":6,"s":"a","x":3.6,"y":0.082},{"p":6,"s":"a","x":3.65,"y":0.085},{"p":6,"s":"a","x":3.7,"y":0.088},{"p":6,"s":"a","x":3.73,"y":0.098},{"p":6,"s":"a","x":3.76,"y":0.092},{"p":6,"s":"a","x":3.8,"y":0.095},{"p":6,"s":"a","x":3.85,"y":0.102},{"p":6,"s":"a","x":3.9,"y":0.108},{"p":6,"s":"a","x":3.93,"y":0.108},{"p":6,"s":"a","x":3.948,"y":0.35},{"p":6,"s":"a","x":3.963,"y":0.2},{"p":6,"s":"a","x":3.978,"y":0.17},{"p":6,"s":"a","x":3.999,"y":0.305},{"p":6,"s":"a","x":4.015,"y":0.15},{"p":6,"s":"a","x":4.04,"y":0.125},{"p":6,"s":"a","x":4.07,"y":0.13},{"p":6,"s":"a","x":4.085,"y":0.16},{"p":6,"s":"a","x":4.1,"y":0.135},{"p":6,"s":"a","x":4.15,"y":0.138},{"p":6,"s":"a","x":4.2,"y":0.142},{"p":6,"s":"a","x":4.25,"y":0.146},{"p":6,"s":"a","x":4.3,"y":0.15},
{"p":6,"s":"b","x":5.0,"y":0.24},{"p":6,"s":"b","x":5.02,"y":0.33},{"p":6,"s":"b","x":5.04,"y":0.7},{"p":6,"s":"b","x":5.055,"y":0.5},{"p":6,"s":"b","x":5.08,"y":0.4},{"p":6,"s":"b","x":5.1,"y":0.6},{"p":6,"s":"b","x":5.13,"y":0.35},{"p":6,"s":"b","x":5.16,"y":0.34},{"p":6,"s":"b","x":5.19,"y":0.38},{"p":6,"s":"b","x":5.22,"y":0.48},{"p":6,"s":"b","x":5.245,"y":0.35},{"p":6,"s":"b","x":5.27,"y":0.38},{"p":6,"s":"b","x":5.29,"y":0.49},{"p":6,"s":"b","x":5.31,"y":0.36},{"p":6,"s":"b","x":5.35,"y":0.4},{"p":6,"s":"b","x":5.38,"y":0.47},{"p":6,"s":"b","x":5.4,"y":0.63},{"p":6,"s":"b","x":5.43,"y":0.47},{"p":6,"s":"b","x":5.47,"y":0.44},{"p":6,"s":"b","x":5.51,"y":0.45},{"p":6,"s":"b","x":5.55,"y":0.5},{"p":6,"s":"b","x":5.57,"y":0.54},{"p":6,"s":"b","x":5.6,"y":0.46},{"p":6,"s":"b","x":5.63,"y":0.44},{"p":6,"s":"b","x":5.665,"y":0.44},{"p":6,"s":"b","x":5.678,"y":0.7},{"p":6,"s":"b","x":5.685,"y":1.3},{"p":6,"s":"b","x":5.695,"y":0.75},{"p":6,"s":"b","x":5.72,"y":0.64},{"p":6,"s":"b","x":5.76,"y":0.66},{"p":6,"s":"b","x":5.79,"y":0.64},{"p":6,"s":"b","x":5.81,"y":0.6},{"p":6,"s":"b","x":5.84,"y":0.66},{"p":6,"s":"b","x":5.87,"y":0.65},{"p":6,"s":"b","x":5.9,"y":0.75},{"p":6,"s":"b","x":5.93,"y":0.62},{"p":6,"s":"b","x":5.96,"y":0.55},{"p":6,"s":"b","x":5.99,"y":0.56},{"p":6,"s":"b","x":6.01,"y":0.68},{"p":6,"s":"b","x":6.025,"y":0.85},{"p":6,"s":"b","x":6.04,"y":0.9},{"p":6,"s":"b","x":6.06,"y":0.92},{"p":6,"s":"b","x":6.077,"y":0.9},
{"p":6,"s":"m","x":3.3,"y":0.047},{"p":6,"s":"m","x":3.349,"y":0.051},{"p":6,"s":"m","x":3.369,"y":0.075},{"p":6,"s":"m","x":3.389,"y":0.051},{"p":6,"s":"m","x":3.515,"y":0.063},{"p":6,"s":"m","x":3.535,"y":0.08},{"p":6,"s":"m","x":3.555,"y":0.063},{"p":6,"s":"m","x":3.716,"y":0.079},{"p":6,"s":"m","x":3.736,"y":0.095},{"p":6,"s":"m","x":3.756,"y":0.079},{"p":6,"s":"m","x":3.928,"y":0.096},{"p":6,"s":"m","x":3.948,"y":0.31},{"p":6,"s":"m","x":3.973,"y":0.171},{"p":6,"s":"m","x":3.999,"y":0.305},{"p":6,"s":"m","x":4.019,"y":0.1},{"p":6,"s":"m","x":4.28,"y":0.132},{"p":6,"s":"m","x":4.3,"y":0.15},{"p":6,"s":"m","x":4.32,"y":0.132},{"p":6,"s":"m","x":4.43,"y":0.148},{"p":6,"s":"m","x":4.45,"y":0.165},{"p":6,"s":"m","x":4.47,"y":0.148},{"p":6,"s":"m","x":4.713,"y":0.198},{"p":6,"s":"m","x":4.733,"y":0.225},{"p":6,"s":"m","x":4.753,"y":0.198},{"p":6,"s":"m","x":4.815,"y":0.218},{"p":6,"s":"m","x":4.835,"y":0.24},{"p":6,"s":"m","x":4.855,"y":0.218},{"p":6,"s":"m","x":4.93,"y":0.24},{"p":6,"s":"m","x":4.95,"y":0.28},{"p":6,"s":"m","x":4.97,"y":0.24},{"p":6,"s":"m","x":5.023,"y":0.26},{"p":6,"s":"m","x":5.043,"y":0.71},{"p":6,"s":"m","x":5.072,"y":0.388},{"p":6,"s":"m","x":5.1,"y":0.63},{"p":6,"s":"m","x":5.12,"y":0.274},{"p":6,"s":"m","x":5.2,"y":0.303},{"p":6,"s":"m","x":5.22,"y":0.45},{"p":6,"s":"m","x":5.24,"y":0.303},{"p":6,"s":"m","x":5.268,"y":0.319},{"p":6,"s":"m","x":5.288,"y":0.35},{"p":6,"s":"m","x":5.308,"y":0.319},{"p":6,"s":"m","x":5.384,"y":0.347},{"p":6,"s":"m","x":5.404,"y":0.51},{"p":6,"s":"m","x":5.424,"y":0.347},{"p":6,"s":"m","x":5.547,"y":0.387},{"p":6,"s":"m","x":5.567,"y":0.45},{"p":6,"s":"m","x":5.587,"y":0.387},{"p":6,"s":"m","x":5.665,"y":0.418},{"p":6,"s":"m","x":5.685,"y":1.09},{"p":6,"s":"m","x":5.703,"y":0.418},{"p":6,"s":"m","x":5.72,"y":0.52},{"p":6,"s":"m","x":5.741,"y":0.467},{"p":6,"s":"m","x":5.763,"y":0.57},{"p":6,"s":"m","x":5.79,"y":0.483},{"p":6,"s":"m","x":5.822,"y":0.8},{"p":6,"s":"m","x":5.842,"y":0.454},{"p":6,"s":"m","x":6.028,"y":0.513},{"p":6,"s":"m","x":6.048,"y":0.7},{"p":6,"s":"m","x":6.068,"y":0.513},{"p":6,"s":"m","x":6.077,"y":0.52},
{"p":7,"s":"a","x":3.31,"y":0.016},{"p":7,"s":"a","x":3.33,"y":0.022},{"p":7,"s":"a","x":3.355,"y":0.024},{"p":7,"s":"a","x":3.356,"y":-1},{"p":7,"s":"a","x":3.357,"y":0.024},{"p":7,"s":"a","x":3.4,"y":0.023},{"p":7,"s":"a","x":3.45,"y":0.024},{"p":7,"s":"a","x":3.5,"y":0.025},{"p":7,"s":"a","x":3.55,"y":0.026},{"p":7,"s":"a","x":3.6,"y":0.027},{"p":7,"s":"a","x":3.65,"y":0.029},{"p":7,"s":"a","x":3.7,"y":0.03},{"p":7,"s":"a","x":3.73,"y":0.034},{"p":7,"s":"a","x":3.76,"y":0.032},{"p":7,"s":"a","x":3.8,"y":0.034},{"p":7,"s":"a","x":3.85,"y":0.038},{"p":7,"s":"a","x":3.9,"y":0.04},{"p":7,"s":"a","x":3.93,"y":0.04},{"p":7,"s":"a","x":3.948,"y":0.112},{"p":7,"s":"a","x":3.963,"y":0.075},{"p":7,"s":"a","x":3.978,"y":0.06},{"p":7,"s":"a","x":3.999,"y":0.108},{"p":7,"s":"a","x":4.015,"y":0.05},{"p":7,"s":"a","x":4.04,"y":0.042},{"p":7,"s":"a","x":4.07,"y":0.045},{"p":7,"s":"a","x":4.085,"y":0.055},{"p":7,"s":"a","x":4.1,"y":0.047},{"p":7,"s":"a","x":4.15,"y":0.049},{"p":7,"s":"a","x":4.2,"y":0.051},{"p":7,"s":"a","x":4.25,"y":0.053},{"p":7,"s":"a","x":4.3,"y":0.055},
{"p":7,"s":"b","x":5.0,"y":0.082},{"p":7,"s":"b","x":5.02,"y":0.095},{"p":7,"s":"b","x":5.04,"y":0.28},{"p":7,"s":"b","x":5.055,"y":0.2},{"p":7,"s":"b","x":5.08,"y":0.15},{"p":7,"s":"b","x":5.1,"y":0.25},{"p":7,"s":"b","x":5.13,"y":0.12},{"p":7,"s":"b","x":5.16,"y":0.115},{"p":7,"s":"b","x":5.19,"y":0.12},{"p":7,"s":"b","x":5.22,"y":0.15},{"p":7,"s":"b","x":5.245,"y":0.118},{"p":7,"s":"b","x":5.27,"y":0.125},{"p":7,"s":"b","x":5.29,"y":0.148},{"p":7,"s":"b","x":5.31,"y":0.12},{"p":7,"s":"b","x":5.35,"y":0.125},{"p":7,"s":"b","x":5.38,"y":0.14},{"p":7,"s":"b","x":5.4,"y":0.215},{"p":7,"s":"b","x":5.43,"y":0.15},{"p":7,"s":"b","x":5.47,"y":0.135},{"p":7,"s":"b","x":5.51,"y":0.14},{"p":7,"s":"b","x":5.55,"y":0.125},{"p":7,"s":"b","x":5.57,"y":0.16},{"p":7,"s":"b","x":5.6,"y":0.13},{"p":7,"s":"b","x":5.63,"y":0.125},{"p":7,"s":"b","x":5.665,"y":0.15},{"p":7,"s":"b","x":5.678,"y":0.22},{"p":7,"s":"b","x":5.685,"y":0.42},{"p":7,"s":"b","x":5.695,"y":0.22},{"p":7,"s":"b","x":5.72,"y":0.19},{"p":7,"s":"b","x":5.76,"y":0.21},{"p":7,"s":"b","x":5.79,"y":0.24},{"p":7,"s":"b","x":5.81,"y":0.21},{"p":7,"s":"b","x":5.84,"y":0.21},{"p":7,"s":"b","x":5.87,"y":0.2},{"p":7,"s":"b","x":5.9,"y":0.22},{"p":7,"s":"b","x":5.93,"y":0.16},{"p":7,"s":"b","x":5.96,"y":0.17},{"p":7,"s":"b","x":5.99,"y":0.2},{"p":7,"s":"b","x":6.01,"y":0.22},{"p":7,"s":"b","x":6.025,"y":0.28},{"p":7,"s":"b","x":6.04,"y":0.32},{"p":7,"s":"b","x":6.06,"y":0.29},{"p":7,"s":"b","x":6.077,"y":0.29},
{"p":7,"s":"m","x":3.3,"y":0.014},{"p":7,"s":"m","x":3.349,"y":0.016},{"p":7,"s":"m","x":3.369,"y":0.022},{"p":7,"s":"m","x":3.389,"y":0.016},{"p":7,"s":"m","x":3.515,"y":0.02},{"p":7,"s":"m","x":3.535,"y":0.026},{"p":7,"s":"m","x":3.555,"y":0.02},{"p":7,"s":"m","x":3.716,"y":0.025},{"p":7,"s":"m","x":3.736,"y":0.03},{"p":7,"s":"m","x":3.756,"y":0.025},{"p":7,"s":"m","x":3.928,"y":0.031},{"p":7,"s":"m","x":3.948,"y":0.112},{"p":7,"s":"m","x":3.973,"y":0.059},{"p":7,"s":"m","x":3.999,"y":0.108},{"p":7,"s":"m","x":4.019,"y":0.032},{"p":7,"s":"m","x":4.28,"y":0.047},{"p":7,"s":"m","x":4.3,"y":0.052},{"p":7,"s":"m","x":4.32,"y":0.047},{"p":7,"s":"m","x":4.43,"y":0.0545},{"p":7,"s":"m","x":4.45,"y":0.06},{"p":7,"s":"m","x":4.47,"y":0.0545},{"p":7,"s":"m","x":4.713,"y":0.077},{"p":7,"s":"m","x":4.733,"y":0.085},{"p":7,"s":"m","x":4.753,"y":0.077},{"p":7,"s":"m","x":4.815,"y":0.0858},{"p":7,"s":"m","x":4.835,"y":0.092},{"p":7,"s":"m","x":4.855,"y":0.0858},{"p":7,"s":"m","x":4.93,"y":0.0957},{"p":7,"s":"m","x":4.95,"y":0.105},{"p":7,"s":"m","x":4.97,"y":0.0957},{"p":7,"s":"m","x":5.023,"y":0.1049},{"p":7,"s":"m","x":5.043,"y":0.285},{"p":7,"s":"m","x":5.072,"y":0.157},{"p":7,"s":"m","x":5.1,"y":0.26},{"p":7,"s":"m","x":5.12,"y":0.1114},{"p":7,"s":"m","x":5.2,"y":0.125},{"p":7,"s":"m","x":5.22,"y":0.165},{"p":7,"s":"m","x":5.24,"y":0.125},{"p":7,"s":"m","x":5.268,"y":0.1328},{"p":7,"s":"m","x":5.288,"y":0.16},{"p":7,"s":"m","x":5.308,"y":0.1328},{"p":7,"s":"m","x":5.384,"y":0.146},{"p":7,"s":"m","x":5.404,"y":0.215},{"p":7,"s":"m","x":5.424,"y":0.146},{"p":7,"s":"m","x":5.547,"y":0.1648},{"p":7,"s":"m","x":5.567,"y":0.215},{"p":7,"s":"m","x":5.587,"y":0.1648},{"p":7,"s":"m","x":5.665,"y":0.1785},{"p":7,"s":"m","x":5.685,"y":0.45},{"p":7,"s":"m","x":5.703,"y":0.1785},{"p":7,"s":"m","x":5.72,"y":0.22},{"p":7,"s":"m","x":5.741,"y":0.199},{"p":7,"s":"m","x":5.763,"y":0.265},{"p":7,"s":"m","x":5.79,"y":0.213},{"p":7,"s":"m","x":5.822,"y":0.35},{"p":7,"s":"m","x":5.842,"y":0.1944},{"p":7,"s":"m","x":6.028,"y":0.2207},{"p":7,"s":"m","x":6.048,"y":0.29},{"p":7,"s":"m","x":6.068,"y":0.2207},{"p":7,"s":"m","x":6.077,"y":0.224},
{"p":8,"s":"a","x":3.31,"y":0.05},{"p":8,"s":"a","x":3.33,"y":0.06},{"p":8,"s":"a","x":3.355,"y":0.065},{"p":8,"s":"a","x":3.356,"y":-1},{"p":8,"s":"a","x":3.357,"y":0.065},{"p":8,"s":"a","x":3.4,"y":0.063},{"p":8,"s":"a","x":3.45,"y":0.065},{"p":8,"s":"a","x":3.5,"y":0.067},{"p":8,"s":"a","x":3.55,"y":0.07},{"p":8,"s":"a","x":3.6,"y":0.072},{"p":8,"s":"a","x":3.65,"y":0.075},{"p":8,"s":"a","x":3.7,"y":0.078},{"p":8,"s":"a","x":3.73,"y":0.085},{"p":8,"s":"a","x":3.76,"y":0.082},{"p":8,"s":"a","x":3.8,"y":0.085},{"p":8,"s":"a","x":3.85,"y":0.092},{"p":8,"s":"a","x":3.9,"y":0.097},{"p":8,"s":"a","x":3.93,"y":0.098},{"p":8,"s":"a","x":3.948,"y":0.3},{"p":8,"s":"a","x":3.963,"y":0.18},{"p":8,"s":"a","x":3.978,"y":0.15},{"p":8,"s":"a","x":3.999,"y":0.265},{"p":8,"s":"a","x":4.015,"y":0.13},{"p":8,"s":"a","x":4.04,"y":0.115},{"p":8,"s":"a","x":4.07,"y":0.12},{"p":8,"s":"a","x":4.085,"y":0.14},{"p":8,"s":"a","x":4.1,"y":0.123},{"p":8,"s":"a","x":4.15,"y":0.126},{"p":8,"s":"a","x":4.2,"y":0.13},{"p":8,"s":"a","x":4.25,"y":0.134},{"p":8,"s":"a","x":4.3,"y":0.138},
{"p":8,"s":"b","x":5.0,"y":0.2},{"p":8,"s":"b","x":5.02,"y":0.26},{"p":8,"s":"b","x":5.04,"y":0.63},{"p":8,"s":"b","x":5.055,"y":0.45},{"p":8,"s":"b","x":5.08,"y":0.36},{"p":8,"s":"b","x":5.1,"y":0.55},{"p":8,"s":"b","x":5.13,"y":0.3},{"p":8,"s":"b","x":5.16,"y":0.29},{"p":8,"s":"b","x":5.19,"y":0.32},{"p":8,"s":"b","x":5.22,"y":0.41},{"p":8,"s":"b","x":5.245,"y":0.3},{"p":8,"s":"b","x":5.27,"y":0.32},{"p":8,"s":"b","x":5.29,"y":0.42},{"p":8,"s":"b","x":5.31,"y":0.31},{"p":8,"s":"b","x":5.35,"y":0.34},{"p":8,"s":"b","x":5.38,"y":0.42},{"p":8,"s":"b","x":5.4,"y":0.53},{"p":8,"s":"b","x":5.43,"y":0.38},{"p":8,"s":"b","x":5.47,"y":0.36},{"p":8,"s":"b","x":5.51,"y":0.38},{"p":8,"s":"b","x":5.55,"y":0.44},{"p":8,"s":"b","x":5.57,"y":0.47},{"p":8,"s":"b","x":5.6,"y":0.39},{"p":8,"s":"b","x":5.63,"y":0.38},{"p":8,"s":"b","x":5.665,"y":0.38},{"p":8,"s":"b","x":5.678,"y":0.6},{"p":8,"s":"b","x":5.685,"y":1.06},{"p":8,"s":"b","x":5.695,"y":0.65},{"p":8,"s":"b","x":5.72,"y":0.56},{"p":8,"s":"b","x":5.76,"y":0.6},{"p":8,"s":"b","x":5.79,"y":0.58},{"p":8,"s":"b","x":5.81,"y":0.53},{"p":8,"s":"b","x":5.84,"y":0.6},{"p":8,"s":"b","x":5.87,"y":0.55},{"p":8,"s":"b","x":5.9,"y":0.65},{"p":8,"s":"b","x":5.93,"y":0.55},{"p":8,"s":"b","x":5.96,"y":0.48},{"p":8,"s":"b","x":5.99,"y":0.5},{"p":8,"s":"b","x":6.01,"y":0.6},{"p":8,"s":"b","x":6.025,"y":0.75},{"p":8,"s":"b","x":6.04,"y":0.78},{"p":8,"s":"b","x":6.06,"y":0.8},{"p":8,"s":"b","x":6.077,"y":0.78},
{"p":8,"s":"m","x":3.3,"y":0.042},{"p":8,"s":"m","x":3.349,"y":0.046},{"p":8,"s":"m","x":3.369,"y":0.065},{"p":8,"s":"m","x":3.389,"y":0.046},{"p":8,"s":"m","x":3.515,"y":0.057},{"p":8,"s":"m","x":3.535,"y":0.07},{"p":8,"s":"m","x":3.555,"y":0.057},{"p":8,"s":"m","x":3.716,"y":0.0687},{"p":8,"s":"m","x":3.736,"y":0.08},{"p":8,"s":"m","x":3.756,"y":0.0687},{"p":8,"s":"m","x":3.928,"y":0.081},{"p":8,"s":"m","x":3.948,"y":0.27},{"p":8,"s":"m","x":3.973,"y":0.146},{"p":8,"s":"m","x":3.999,"y":0.26},{"p":8,"s":"m","x":4.019,"y":0.084},{"p":8,"s":"m","x":4.28,"y":0.1158},{"p":8,"s":"m","x":4.3,"y":0.13},{"p":8,"s":"m","x":4.32,"y":0.1158},{"p":8,"s":"m","x":4.43,"y":0.1317},{"p":8,"s":"m","x":4.45,"y":0.145},{"p":8,"s":"m","x":4.47,"y":0.1317},{"p":8,"s":"m","x":4.713,"y":0.171},{"p":8,"s":"m","x":4.733,"y":0.19},{"p":8,"s":"m","x":4.753,"y":0.171},{"p":8,"s":"m","x":4.815,"y":0.186},{"p":8,"s":"m","x":4.835,"y":0.2},{"p":8,"s":"m","x":4.855,"y":0.186},{"p":8,"s":"m","x":4.93,"y":0.2027},{"p":8,"s":"m","x":4.95,"y":0.23},{"p":8,"s":"m","x":4.97,"y":0.2027},{"p":8,"s":"m","x":5.023,"y":0.22},{"p":8,"s":"m","x":5.043,"y":0.63},{"p":8,"s":"m","x":5.072,"y":0.336},{"p":8,"s":"m","x":5.1,"y":0.55},{"p":8,"s":"m","x":5.12,"y":0.2332},{"p":8,"s":"m","x":5.2,"y":0.261},{"p":8,"s":"m","x":5.22,"y":0.4},{"p":8,"s":"m","x":5.24,"y":0.261},{"p":8,"s":"m","x":5.268,"y":0.2768},{"p":8,"s":"m","x":5.288,"y":0.31},{"p":8,"s":"m","x":5.308,"y":0.2768},{"p":8,"s":"m","x":5.384,"y":0.3037},{"p":8,"s":"m","x":5.404,"y":0.46},{"p":8,"s":"m","x":5.424,"y":0.3037},{"p":8,"s":"m","x":5.547,"y":0.3415},{"p":8,"s":"m","x":5.567,"y":0.46},{"p":8,"s":"m","x":5.587,"y":0.3415},{"p":8,"s":"m","x":5.665,"y":0.369},{"p":8,"s":"m","x":5.685,"y":0.97},{"p":8,"s":"m","x":5.703,"y":0.369},{"p":8,"s":"m","x":5.72,"y":0.47},{"p":8,"s":"m","x":5.741,"y":0.417},{"p":8,"s":"m","x":5.763,"y":0.51},{"p":8,"s":"m","x":5.79,"y":0.429},{"p":8,"s":"m","x":5.822,"y":0.71},{"p":8,"s":"m","x":5.842,"y":0.4008},{"p":8,"s":"m","x":6.028,"y":0.4533},{"p":8,"s":"m","x":6.048,"y":0.62},{"p":8,"s":"m","x":6.068,"y":0.4533},{"p":8,"s":"m","x":6.077,"y":0.46},
{"p":9,"s":"a","x":3.31,"y":0.17},{"p":9,"s":"a","x":3.33,"y":0.2},{"p":9,"s":"a","x":3.355,"y":0.21},{"p":9,"s":"a","x":3.356,"y":-1},{"p":9,"s":"a","x":3.357,"y":0.21},{"p":9,"s":"a","x":3.4,"y":0.21},{"p":9,"s":"a","x":3.45,"y":0.215},{"p":9,"s":"a","x":3.5,"y":0.22},{"p":9,"s":"a","x":3.55,"y":0.23},{"p":9,"s":"a","x":3.6,"y":0.235},{"p":9,"s":"a","x":3.65,"y":0.24},{"p":9,"s":"a","x":3.7,"y":0.25},{"p":9,"s":"a","x":3.73,"y":0.27},{"p":9,"s":"a","x":3.76,"y":0.26},{"p":9,"s":"a","x":3.8,"y":0.27},{"p":9,"s":"a","x":3.85,"y":0.3},{"p":9,"s":"a","x":3.9,"y":0.31},{"p":9,"s":"a","x":3.93,"y":0.31},{"p":9,"s":"a","x":3.948,"y":1.05},{"p":9,"s":"a","x":3.963,"y":0.62},{"p":9,"s":"a","x":3.978,"y":0.5},{"p":9,"s":"a","x":3.999,"y":0.89},{"p":9,"s":"a","x":4.015,"y":0.42},{"p":9,"s":"a","x":4.04,"y":0.35},{"p":9,"s":"a","x":4.07,"y":0.36},{"p":9,"s":"a","x":4.085,"y":0.45},{"p":9,"s":"a","x":4.1,"y":0.37},{"p":9,"s":"a","x":4.15,"y":0.38},{"p":9,"s":"a","x":4.2,"y":0.4},{"p":9,"s":"a","x":4.25,"y":0.41},{"p":9,"s":"a","x":4.3,"y":0.43},
{"p":9,"s":"b","x":5.0,"y":0.45},{"p":9,"s":"b","x":5.02,"y":0.6},{"p":9,"s":"b","x":5.04,"y":1.58},{"p":9,"s":"b","x":5.055,"y":1.1},{"p":9,"s":"b","x":5.08,"y":0.8},{"p":9,"s":"b","x":5.1,"y":1.2},{"p":9,"s":"b","x":5.13,"y":0.72},{"p":9,"s":"b","x":5.16,"y":0.68},{"p":9,"s":"b","x":5.19,"y":0.75},{"p":9,"s":"b","x":5.22,"y":1.05},{"p":9,"s":"b","x":5.245,"y":0.72},{"p":9,"s":"b","x":5.27,"y":0.8},{"p":9,"s":"b","x":5.29,"y":0.95},{"p":9,"s":"b","x":5.31,"y":0.72},{"p":9,"s":"b","x":5.35,"y":0.8},{"p":9,"s":"b","x":5.38,"y":0.95},{"p":9,"s":"b","x":5.4,"y":1.2},{"p":9,"s":"b","x":5.43,"y":0.85},{"p":9,"s":"b","x":5.47,"y":0.8},{"p":9,"s":"b","x":5.51,"y":0.82},{"p":9,"s":"b","x":5.55,"y":0.9},{"p":9,"s":"b","x":5.57,"y":0.95},{"p":9,"s":"b","x":5.6,"y":0.9},{"p":9,"s":"b","x":5.63,"y":0.8},{"p":9,"s":"b","x":5.665,"y":0.82},{"p":9,"s":"b","x":5.678,"y":1.4},{"p":9,"s":"b","x":5.685,"y":2.6},{"p":9,"s":"b","x":5.695,"y":1.45},{"p":9,"s":"b","x":5.72,"y":1.38},{"p":9,"s":"b","x":5.76,"y":1.45},{"p":9,"s":"b","x":5.79,"y":1.3},{"p":9,"s":"b","x":5.81,"y":1.35},{"p":9,"s":"b","x":5.84,"y":1.2},{"p":9,"s":"b","x":5.87,"y":1.3},{"p":9,"s":"b","x":5.9,"y":1.75},{"p":9,"s":"b","x":5.93,"y":1.5},{"p":9,"s":"b","x":5.96,"y":1.2},{"p":9,"s":"b","x":5.99,"y":1.25},{"p":9,"s":"b","x":6.01,"y":1.55},{"p":9,"s":"b","x":6.025,"y":2.05},{"p":9,"s":"b","x":6.04,"y":1.95},{"p":9,"s":"b","x":6.06,"y":2.0},{"p":9,"s":"b","x":6.077,"y":2.0},
{"p":9,"s":"m","x":3.3,"y":0.114},{"p":9,"s":"m","x":3.349,"y":0.126},{"p":9,"s":"m","x":3.369,"y":0.18},{"p":9,"s":"m","x":3.389,"y":0.126},{"p":9,"s":"m","x":3.515,"y":0.157},{"p":9,"s":"m","x":3.535,"y":0.2},{"p":9,"s":"m","x":3.555,"y":0.157},{"p":9,"s":"m","x":3.716,"y":0.197},{"p":9,"s":"m","x":3.736,"y":0.23},{"p":9,"s":"m","x":3.756,"y":0.197},{"p":9,"s":"m","x":3.928,"y":0.24},{"p":9,"s":"m","x":3.948,"y":0.93},{"p":9,"s":"m","x":3.973,"y":0.473},{"p":9,"s":"m","x":3.999,"y":0.86},{"p":9,"s":"m","x":4.019,"y":0.25},{"p":9,"s":"m","x":4.28,"y":0.31},{"p":9,"s":"m","x":4.3,"y":0.38},{"p":9,"s":"m","x":4.32,"y":0.31},{"p":9,"s":"m","x":4.43,"y":0.34},{"p":9,"s":"m","x":4.45,"y":0.4},{"p":9,"s":"m","x":4.47,"y":0.34},{"p":9,"s":"m","x":4.713,"y":0.397},{"p":9,"s":"m","x":4.733,"y":0.48},{"p":9,"s":"m","x":4.753,"y":0.397},{"p":9,"s":"m","x":4.815,"y":0.417},{"p":9,"s":"m","x":4.835,"y":0.5},{"p":9,"s":"m","x":4.855,"y":0.417},{"p":9,"s":"m","x":4.93,"y":0.44},{"p":9,"s":"m","x":4.95,"y":0.6},{"p":9,"s":"m","x":4.97,"y":0.44},{"p":9,"s":"m","x":5.023,"y":0.459},{"p":9,"s":"m","x":5.043,"y":1.58},{"p":9,"s":"m","x":5.072,"y":0.738},{"p":9,"s":"m","x":5.1,"y":1.17},{"p":9,"s":"m","x":5.12,"y":0.472},{"p":9,"s":"m","x":5.2,"y":0.498},{"p":9,"s":"m","x":5.22,"y":0.98},{"p":9,"s":"m","x":5.24,"y":0.498},{"p":9,"s":"m","x":5.268,"y":0.513},{"p":9,"s":"m","x":5.288,"y":0.69},{"p":9,"s":"m","x":5.308,"y":0.513},{"p":9,"s":"m","x":5.384,"y":0.539},{"p":9,"s":"m","x":5.404,"y":0.93},{"p":9,"s":"m","x":5.424,"y":0.539},{"p":9,"s":"m","x":5.547,"y":0.572},{"p":9,"s":"m","x":5.567,"y":0.65},{"p":9,"s":"m","x":5.587,"y":0.572},{"p":9,"s":"m","x":5.665,"y":0.592},{"p":9,"s":"m","x":5.685,"y":1.97},{"p":9,"s":"m","x":5.703,"y":0.592},{"p":9,"s":"m","x":5.72,"y":0.8},{"p":9,"s":"m","x":5.741,"y":0.681},{"p":9,"s":"m","x":5.763,"y":1.08},{"p":9,"s":"m","x":5.79,"y":0.674},{"p":9,"s":"m","x":5.822,"y":0.82},{"p":9,"s":"m","x":5.842,"y":0.616},{"p":9,"s":"m","x":6.028,"y":0.655},{"p":9,"s":"m","x":6.048,"y":1.33},{"p":9,"s":"m","x":6.068,"y":0.655},{"p":9,"s":"m","x":6.077,"y":0.66}
]
},
"concat":[
{"width":206,"height":144,"layer":[
 {"data":{"name":"dem"},"transform":[{"filter":"datum.p==1"}],"mark":{"type":"rect","filled":false,"color":"#0000ff","strokeWidth":2.6,"clip":true},
  "encoding":{"x":{"field":"a","type":"quantitative","scale":{"domain":[3,30],"nice":false,"zero":false},"axis":{"orient":"bottom","values":[3,4,5,6,7,8,9,10,11,12,13,14,15,16,17,18,19,20,21,22,23,24,25,26,27,28,29,30],"labels":false,"title":null,"tickSize":{"condition":{"test":"datum.value % 5 == 0","value":-7},"value":-3.5}}},
  "x2":{"field":"b"},
  "y":{"field":"t","type":"quantitative","scale":{"domain":[43.75,50.25],"nice":false,"zero":false},"axis":{"orient":"left","values":[44,44.5,45,45.5,46,46.5,47,47.5,48,48.5,49,49.5,50],"labelExpr":"datum.value % 1 == 0 ? format(datum.value, 'd') : ''","title":"Log DEM","titlePadding":8,"tickSize":{"condition":{"test":"datum.value % 1 == 0","value":-7},"value":-3.5}}},
  "y2":{"datum":43}}},
 {"data":{"name":"fit"},"transform":[{"filter":"datum.p==1"}],"mark":{"type":"line","color":"#d40000","strokeWidth":3,"clip":true},
  "encoding":{"x":{"field":"t","type":"quantitative","scale":{"domain":[3,30],"nice":false,"zero":false},"axis":{"orient":"top","values":[3,4,5,6,7,8,9,10,11,12,13,14,15,16,17,18,19,20,21,22,23,24,25,26,27,28,29,30],"labels":false,"title":null,"tickSize":{"condition":{"test":"datum.value % 5 == 0","value":-7},"value":-3.5}}},
  "y":{"field":"d","type":"quantitative","scale":{"domain":[43.75,50.25],"nice":false,"zero":false},"axis":{"orient":"right","values":[44,44.5,45,45.5,46,46.5,47,47.5,48,48.5,49,49.5,50],"labels":false,"title":null,"tickSize":{"condition":{"test":"datum.value % 1 == 0","value":-7},"value":-3.5}}},
  "detail":{"field":"s"}}}],
 "resolve":{"axis":{"x":"independent","y":"independent"}}},
{"width":610,"height":144,"title":{"text":"03:00:00 UT – 03:20:00 UT","anchor":"start","frame":"group","offset":-64,"baseline":"alphabetic","dx":44},"layer":[
 {"data":{"name":"spec"},"transform":[{"filter":"datum.p==1 && datum.s!='m'"}],"mark":{"type":"line","color":"#000000","strokeWidth":3.5,"clip":true},
  "encoding":{"x":{"field":"x","type":"quantitative","scale":{"domain":[3.3,6.077],"nice":false,"zero":false},"axis":{"orient":"bottom","values":[3.4,3.5,3.6,3.7,3.8,3.9,4.0,4.1,4.2,4.3,4.4,4.5,4.6,4.7,4.8,4.9,5.0,5.1,5.2,5.3,5.4,5.5,5.6,5.7,5.8,5.9,6.0],"labels":false,"title":null,"tickSize":{"condition":{"test":"round(datum.value*10) % 5 == 0","value":-7},"value":-3.5}}},
  "y":{"field":"y","type":"quantitative","scale":{"domain":[0.02,0.475],"nice":false,"zero":false},"axis":{"orient":"left","values":[0.04,0.06,0.08,0.1,0.12,0.14,0.16,0.18,0.2,0.22,0.24,0.26,0.28,0.3,0.32,0.34,0.36,0.38,0.4,0.42,0.44,0.46],"labelExpr":"round(datum.value*100) % 10 == 0 ? format(datum.value, '.1f') : ''","title":"10⁶ Phot./cm²/s/Å","titleFontSize":19,"titlePadding":12,"tickSize":{"condition":{"test":"round(datum.value*100) % 10 == 0","value":-7},"value":-3.5}}},
  "detail":{"field":"s"}}},
 {"data":{"name":"spec"},"transform":[{"filter":"datum.p==1 && datum.s=='m'"}],"mark":{"type":"line","color":"#2e8b0a","strokeWidth":3,"interpolate":"monotone","clip":true},
  "encoding":{"x":{"field":"x","type":"quantitative","scale":{"domain":[3.3,6.077],"nice":false,"zero":false},"axis":{"orient":"top","values":[3.4,3.5,3.6,3.7,3.8,3.9,4.0,4.1,4.2,4.3,4.4,4.5,4.6,4.7,4.8,4.9,5.0,5.1,5.2,5.3,5.4,5.5,5.6,5.7,5.8,5.9,6.0],"labels":false,"title":null,"tickSize":{"condition":{"test":"round(datum.value*10) % 5 == 0","value":-7},"value":-3.5}}},
  "y":{"field":"y","type":"quantitative","scale":{"domain":[0.02,0.475],"nice":false,"zero":false},"axis":{"orient":"right","values":[0.04,0.06,0.08,0.1,0.12,0.14,0.16,0.18,0.2,0.22,0.24,0.26,0.28,0.3,0.32,0.34,0.36,0.38,0.4,0.42,0.44,0.46],"labels":false,"title":null,"tickSize":{"condition":{"test":"round(datum.value*100) % 10 == 0","value":-7},"value":-3.5}}}}}],
 "resolve":{"axis":{"x":"independent","y":"independent"}}},
{"width":206,"height":144,"layer":[
 {"data":{"name":"dem"},"transform":[{"filter":"datum.p==2"}],"mark":{"type":"rect","filled":false,"color":"#0000ff","strokeWidth":2.6,"clip":true},
  "encoding":{"x":{"field":"a","type":"quantitative","scale":{"domain":[3,30],"nice":false,"zero":false},"axis":{"orient":"bottom","values":[3,4,5,6,7,8,9,10,11,12,13,14,15,16,17,18,19,20,21,22,23,24,25,26,27,28,29,30],"labels":false,"title":null,"tickSize":{"condition":{"test":"datum.value % 5 == 0","value":-7},"value":-3.5}}},
  "x2":{"field":"b"},
  "y":{"field":"t","type":"quantitative","scale":{"domain":[43.75,50.25],"nice":false,"zero":false},"axis":{"orient":"left","values":[44,44.5,45,45.5,46,46.5,47,47.5,48,48.5,49,49.5,50],"labelExpr":"datum.value % 1 == 0 ? format(datum.value, 'd') : ''","title":"Log DEM","titlePadding":8,"tickSize":{"condition":{"test":"datum.value % 1 == 0","value":-7},"value":-3.5}}},
  "y2":{"datum":43}}},
 {"data":{"name":"fit"},"transform":[{"filter":"datum.p==2"}],"mark":{"type":"line","color":"#d40000","strokeWidth":3,"clip":true},
  "encoding":{"x":{"field":"t","type":"quantitative","scale":{"domain":[3,30],"nice":false,"zero":false},"axis":{"orient":"top","values":[3,4,5,6,7,8,9,10,11,12,13,14,15,16,17,18,19,20,21,22,23,24,25,26,27,28,29,30],"labels":false,"title":null,"tickSize":{"condition":{"test":"datum.value % 5 == 0","value":-7},"value":-3.5}}},
  "y":{"field":"d","type":"quantitative","scale":{"domain":[43.75,50.25],"nice":false,"zero":false},"axis":{"orient":"right","values":[44,44.5,45,45.5,46,46.5,47,47.5,48,48.5,49,49.5,50],"labels":false,"title":null,"tickSize":{"condition":{"test":"datum.value % 1 == 0","value":-7},"value":-3.5}}},
  "detail":{"field":"s"}}}],
 "resolve":{"axis":{"x":"independent","y":"independent"}}},
{"width":610,"height":144,"title":{"text":"03:20:00 UT – 03:24:19 UT","anchor":"start","frame":"group","offset":-64,"baseline":"alphabetic","dx":44},"layer":[
 {"data":{"name":"spec"},"transform":[{"filter":"datum.p==2 && datum.s!='m'"}],"mark":{"type":"line","color":"#000000","strokeWidth":3.5,"clip":true},
  "encoding":{"x":{"field":"x","type":"quantitative","scale":{"domain":[3.3,6.077],"nice":false,"zero":false},"axis":{"orient":"bottom","values":[3.4,3.5,3.6,3.7,3.8,3.9,4.0,4.1,4.2,4.3,4.4,4.5,4.6,4.7,4.8,4.9,5.0,5.1,5.2,5.3,5.4,5.5,5.6,5.7,5.8,5.9,6.0],"labels":false,"title":null,"tickSize":{"condition":{"test":"round(datum.value*10) % 5 == 0","value":-7},"value":-3.5}}},
  "y":{"field":"y","type":"quantitative","scale":{"domain":[0.1,2.78],"nice":false,"zero":false},"axis":{"orient":"left","values":[0.2,0.3,0.4,0.5,0.6,0.7,0.8,0.9,1.0,1.1,1.2,1.3,1.4,1.5,1.6,1.7,1.8,1.9,2.0,2.1,2.2,2.3,2.4,2.5,2.6,2.7],"labelExpr":"round(datum.value*10) % 5 == 0 ? format(datum.value, '.1f') : ''","title":"10⁶ Phot./cm²/s/Å","titleFontSize":19,"titlePadding":12,"tickSize":{"condition":{"test":"round(datum.value*10) % 5 == 0","value":-7},"value":-3.5}}},
  "detail":{"field":"s"}}},
 {"data":{"name":"spec"},"transform":[{"filter":"datum.p==2 && datum.s=='m'"}],"mark":{"type":"line","color":"#2e8b0a","strokeWidth":3,"interpolate":"monotone","clip":true},
  "encoding":{"x":{"field":"x","type":"quantitative","scale":{"domain":[3.3,6.077],"nice":false,"zero":false},"axis":{"orient":"top","values":[3.4,3.5,3.6,3.7,3.8,3.9,4.0,4.1,4.2,4.3,4.4,4.5,4.6,4.7,4.8,4.9,5.0,5.1,5.2,5.3,5.4,5.5,5.6,5.7,5.8,5.9,6.0],"labels":false,"title":null,"tickSize":{"condition":{"test":"round(datum.value*10) % 5 == 0","value":-7},"value":-3.5}}},
  "y":{"field":"y","type":"quantitative","scale":{"domain":[0.1,2.78],"nice":false,"zero":false},"axis":{"orient":"right","values":[0.2,0.3,0.4,0.5,0.6,0.7,0.8,0.9,1.0,1.1,1.2,1.3,1.4,1.5,1.6,1.7,1.8,1.9,2.0,2.1,2.2,2.3,2.4,2.5,2.6,2.7],"labels":false,"title":null,"tickSize":{"condition":{"test":"round(datum.value*10) % 5 == 0","value":-7},"value":-3.5}}}}}],
 "resolve":{"axis":{"x":"independent","y":"independent"}}},
{"width":206,"height":144,"layer":[
 {"data":{"name":"dem"},"transform":[{"filter":"datum.p==3"}],"mark":{"type":"rect","filled":false,"color":"#0000ff","strokeWidth":2.6,"clip":true},
  "encoding":{"x":{"field":"a","type":"quantitative","scale":{"domain":[3,30],"nice":false,"zero":false},"axis":{"orient":"bottom","values":[3,4,5,6,7,8,9,10,11,12,13,14,15,16,17,18,19,20,21,22,23,24,25,26,27,28,29,30],"labels":false,"title":null,"tickSize":{"condition":{"test":"datum.value % 5 == 0","value":-7},"value":-3.5}}},
  "x2":{"field":"b"},
  "y":{"field":"t","type":"quantitative","scale":{"domain":[43.75,50.25],"nice":false,"zero":false},"axis":{"orient":"left","values":[44,44.5,45,45.5,46,46.5,47,47.5,48,48.5,49,49.5,50],"labelExpr":"datum.value % 1 == 0 ? format(datum.value, 'd') : ''","title":"Log DEM","titlePadding":8,"tickSize":{"condition":{"test":"datum.value % 1 == 0","value":-7},"value":-3.5}}},
  "y2":{"datum":43}}},
 {"data":{"name":"fit"},"transform":[{"filter":"datum.p==3"}],"mark":{"type":"line","color":"#d40000","strokeWidth":3,"clip":true},
  "encoding":{"x":{"field":"t","type":"quantitative","scale":{"domain":[3,30],"nice":false,"zero":false},"axis":{"orient":"top","values":[3,4,5,6,7,8,9,10,11,12,13,14,15,16,17,18,19,20,21,22,23,24,25,26,27,28,29,30],"labels":false,"title":null,"tickSize":{"condition":{"test":"datum.value % 5 == 0","value":-7},"value":-3.5}}},
  "y":{"field":"d","type":"quantitative","scale":{"domain":[43.75,50.25],"nice":false,"zero":false},"axis":{"orient":"right","values":[44,44.5,45,45.5,46,46.5,47,47.5,48,48.5,49,49.5,50],"labels":false,"title":null,"tickSize":{"condition":{"test":"datum.value % 1 == 0","value":-7},"value":-3.5}}},
  "detail":{"field":"s"}}}],
 "resolve":{"axis":{"x":"independent","y":"independent"}}},
{"width":610,"height":144,"title":{"text":"03:29:59 UT – 03:37:49 UT","anchor":"start","frame":"group","offset":-64,"baseline":"alphabetic","dx":44},"layer":[
 {"data":{"name":"spec"},"transform":[{"filter":"datum.p==3 && datum.s!='m'"}],"mark":{"type":"line","color":"#000000","strokeWidth":3.5,"clip":true},
  "encoding":{"x":{"field":"x","type":"quantitative","scale":{"domain":[3.3,6.077],"nice":false,"zero":false},"axis":{"orient":"bottom","values":[3.4,3.5,3.6,3.7,3.8,3.9,4.0,4.1,4.2,4.3,4.4,4.5,4.6,4.7,4.8,4.9,5.0,5.1,5.2,5.3,5.4,5.5,5.6,5.7,5.8,5.9,6.0],"labels":false,"title":null,"tickSize":{"condition":{"test":"round(datum.value*10) % 5 == 0","value":-7},"value":-3.5}}},
  "y":{"field":"y","type":"quantitative","scale":{"domain":[0.0,2.34],"nice":false,"zero":false},"axis":{"orient":"left","values":[0.1,0.2,0.3,0.4,0.5,0.6,0.7,0.8,0.9,1.0,1.1,1.2,1.3,1.4,1.5,1.6,1.7,1.8,1.9,2.0,2.1,2.2,2.3],"labelExpr":"round(datum.value*10) % 5 == 0 ? format(datum.value, '.1f') : ''","title":"10⁶ Phot./cm²/s/Å","titleFontSize":19,"titlePadding":12,"tickSize":{"condition":{"test":"round(datum.value*10) % 5 == 0","value":-7},"value":-3.5}}},
  "detail":{"field":"s"}}},
 {"data":{"name":"spec"},"transform":[{"filter":"datum.p==3 && datum.s=='m'"}],"mark":{"type":"line","color":"#2e8b0a","strokeWidth":3,"interpolate":"monotone","clip":true},
  "encoding":{"x":{"field":"x","type":"quantitative","scale":{"domain":[3.3,6.077],"nice":false,"zero":false},"axis":{"orient":"top","values":[3.4,3.5,3.6,3.7,3.8,3.9,4.0,4.1,4.2,4.3,4.4,4.5,4.6,4.7,4.8,4.9,5.0,5.1,5.2,5.3,5.4,5.5,5.6,5.7,5.8,5.9,6.0],"labels":false,"title":null,"tickSize":{"condition":{"test":"round(datum.value*10) % 5 == 0","value":-7},"value":-3.5}}},
  "y":{"field":"y","type":"quantitative","scale":{"domain":[0.0,2.34],"nice":false,"zero":false},"axis":{"orient":"right","values":[0.1,0.2,0.3,0.4,0.5,0.6,0.7,0.8,0.9,1.0,1.1,1.2,1.3,1.4,1.5,1.6,1.7,1.8,1.9,2.0,2.1,2.2,2.3],"labels":false,"title":null,"tickSize":{"condition":{"test":"round(datum.value*10) % 5 == 0","value":-7},"value":-3.5}}}}}],
 "resolve":{"axis":{"x":"independent","y":"independent"}}},
{"width":206,"height":144,"layer":[
 {"data":{"name":"dem"},"transform":[{"filter":"datum.p==4"}],"mark":{"type":"rect","filled":false,"color":"#0000ff","strokeWidth":2.6,"clip":true},
  "encoding":{"x":{"field":"a","type":"quantitative","scale":{"domain":[3,30],"nice":false,"zero":false},"axis":{"orient":"bottom","values":[3,4,5,6,7,8,9,10,11,12,13,14,15,16,17,18,19,20,21,22,23,24,25,26,27,28,29,30],"labels":false,"title":null,"tickSize":{"condition":{"test":"datum.value % 5 == 0","value":-7},"value":-3.5}}},
  "x2":{"field":"b"},
  "y":{"field":"t","type":"quantitative","scale":{"domain":[43.75,50.25],"nice":false,"zero":false},"axis":{"orient":"left","values":[44,44.5,45,45.5,46,46.5,47,47.5,48,48.5,49,49.5,50],"labelExpr":"datum.value % 1 == 0 ? format(datum.value, 'd') : ''","title":"Log DEM","titlePadding":8,"tickSize":{"condition":{"test":"datum.value % 1 == 0","value":-7},"value":-3.5}}},
  "y2":{"datum":43}}},
 {"data":{"name":"fit"},"transform":[{"filter":"datum.p==4"}],"mark":{"type":"line","color":"#d40000","strokeWidth":3,"clip":true},
  "encoding":{"x":{"field":"t","type":"quantitative","scale":{"domain":[3,30],"nice":false,"zero":false},"axis":{"orient":"top","values":[3,4,5,6,7,8,9,10,11,12,13,14,15,16,17,18,19,20,21,22,23,24,25,26,27,28,29,30],"labels":false,"title":null,"tickSize":{"condition":{"test":"datum.value % 5 == 0","value":-7},"value":-3.5}}},
  "y":{"field":"d","type":"quantitative","scale":{"domain":[43.75,50.25],"nice":false,"zero":false},"axis":{"orient":"right","values":[44,44.5,45,45.5,46,46.5,47,47.5,48,48.5,49,49.5,50],"labels":false,"title":null,"tickSize":{"condition":{"test":"datum.value % 1 == 0","value":-7},"value":-3.5}}},
  "detail":{"field":"s"}}}],
 "resolve":{"axis":{"x":"independent","y":"independent"}}},
{"width":610,"height":144,"title":{"text":"04:18:19 UT – 04:27:39 UT","anchor":"start","frame":"group","offset":-64,"baseline":"alphabetic","dx":44},"layer":[
 {"data":{"name":"spec"},"transform":[{"filter":"datum.p==4 && datum.s!='m'"}],"mark":{"type":"line","color":"#000000","strokeWidth":3.5,"clip":true},
  "encoding":{"x":{"field":"x","type":"quantitative","scale":{"domain":[3.3,6.077],"nice":false,"zero":false},"axis":{"orient":"bottom","values":[3.4,3.5,3.6,3.7,3.8,3.9,4.0,4.1,4.2,4.3,4.4,4.5,4.6,4.7,4.8,4.9,5.0,5.1,5.2,5.3,5.4,5.5,5.6,5.7,5.8,5.9,6.0],"labels":false,"title":null,"tickSize":{"condition":{"test":"round(datum.value*10) % 5 == 0","value":-7},"value":-3.5}}},
  "y":{"field":"y","type":"quantitative","scale":{"domain":[0.02,2.14],"nice":false,"zero":false},"axis":{"orient":"left","values":[0.1,0.2,0.3,0.4,0.5,0.6,0.7,0.8,0.9,1.0,1.1,1.2,1.3,1.4,1.5,1.6,1.7,1.8,1.9,2.0,2.1],"labelExpr":"round(datum.value*10) % 5 == 0 ? format(datum.value, '.1f') : ''","title":"10⁶ Phot./cm²/s/Å","titleFontSize":19,"titlePadding":12,"tickSize":{"condition":{"test":"round(datum.value*10) % 5 == 0","value":-7},"value":-3.5}}},
  "detail":{"field":"s"}}},
 {"data":{"name":"spec"},"transform":[{"filter":"datum.p==4 && datum.s=='m'"}],"mark":{"type":"line","color":"#2e8b0a","strokeWidth":3,"interpolate":"monotone","clip":true},
  "encoding":{"x":{"field":"x","type":"quantitative","scale":{"domain":[3.3,6.077],"nice":false,"zero":false},"axis":{"orient":"top","values":[3.4,3.5,3.6,3.7,3.8,3.9,4.0,4.1,4.2,4.3,4.4,4.5,4.6,4.7,4.8,4.9,5.0,5.1,5.2,5.3,5.4,5.5,5.6,5.7,5.8,5.9,6.0],"labels":false,"title":null,"tickSize":{"condition":{"test":"round(datum.value*10) % 5 == 0","value":-7},"value":-3.5}}},
  "y":{"field":"y","type":"quantitative","scale":{"domain":[0.02,2.14],"nice":false,"zero":false},"axis":{"orient":"right","values":[0.1,0.2,0.3,0.4,0.5,0.6,0.7,0.8,0.9,1.0,1.1,1.2,1.3,1.4,1.5,1.6,1.7,1.8,1.9,2.0,2.1],"labels":false,"title":null,"tickSize":{"condition":{"test":"round(datum.value*10) % 5 == 0","value":-7},"value":-3.5}}}}}],
 "resolve":{"axis":{"x":"independent","y":"independent"}}},
{"width":206,"height":144,"layer":[
 {"data":{"name":"dem"},"transform":[{"filter":"datum.p==5"}],"mark":{"type":"rect","filled":false,"color":"#0000ff","strokeWidth":2.6,"clip":true},
  "encoding":{"x":{"field":"a","type":"quantitative","scale":{"domain":[3,30],"nice":false,"zero":false},"axis":{"orient":"bottom","values":[3,4,5,6,7,8,9,10,11,12,13,14,15,16,17,18,19,20,21,22,23,24,25,26,27,28,29,30],"labels":false,"title":null,"tickSize":{"condition":{"test":"datum.value % 5 == 0","value":-7},"value":-3.5}}},
  "x2":{"field":"b"},
  "y":{"field":"t","type":"quantitative","scale":{"domain":[43.75,50.25],"nice":false,"zero":false},"axis":{"orient":"left","values":[44,44.5,45,45.5,46,46.5,47,47.5,48,48.5,49,49.5,50],"labelExpr":"datum.value % 1 == 0 ? format(datum.value, 'd') : ''","title":"Log DEM","titlePadding":8,"tickSize":{"condition":{"test":"datum.value % 1 == 0","value":-7},"value":-3.5}}},
  "y2":{"datum":43}}},
 {"data":{"name":"fit"},"transform":[{"filter":"datum.p==5"}],"mark":{"type":"line","color":"#d40000","strokeWidth":3,"clip":true},
  "encoding":{"x":{"field":"t","type":"quantitative","scale":{"domain":[3,30],"nice":false,"zero":false},"axis":{"orient":"top","values":[3,4,5,6,7,8,9,10,11,12,13,14,15,16,17,18,19,20,21,22,23,24,25,26,27,28,29,30],"labels":false,"title":null,"tickSize":{"condition":{"test":"datum.value % 5 == 0","value":-7},"value":-3.5}}},
  "y":{"field":"d","type":"quantitative","scale":{"domain":[43.75,50.25],"nice":false,"zero":false},"axis":{"orient":"right","values":[44,44.5,45,45.5,46,46.5,47,47.5,48,48.5,49,49.5,50],"labels":false,"title":null,"tickSize":{"condition":{"test":"datum.value % 1 == 0","value":-7},"value":-3.5}}},
  "detail":{"field":"s"}}}],
 "resolve":{"axis":{"x":"independent","y":"independent"}}},
{"width":610,"height":144,"title":{"text":"4:32:29 UT – 04:58:09 UT","anchor":"start","frame":"group","offset":-64,"baseline":"alphabetic","dx":44},"layer":[
 {"data":{"name":"spec"},"transform":[{"filter":"datum.p==5 && datum.s!='m'"}],"mark":{"type":"line","color":"#000000","strokeWidth":3.5,"clip":true},
  "encoding":{"x":{"field":"x","type":"quantitative","scale":{"domain":[3.3,6.077],"nice":false,"zero":false},"axis":{"orient":"bottom","values":[3.4,3.5,3.6,3.7,3.8,3.9,4.0,4.1,4.2,4.3,4.4,4.5,4.6,4.7,4.8,4.9,5.0,5.1,5.2,5.3,5.4,5.5,5.6,5.7,5.8,5.9,6.0],"labels":false,"title":null,"tickSize":{"condition":{"test":"round(datum.value*10) % 5 == 0","value":-7},"value":-3.5}}},
  "y":{"field":"y","type":"quantitative","scale":{"domain":[0.01,1.135],"nice":false,"zero":false},"axis":{"orient":"left","values":[0.05,0.1,0.15,0.2,0.25,0.3,0.35,0.4,0.45,0.5,0.55,0.6,0.65,0.7,0.75,0.8,0.85,0.9,0.95,1.0,1.05,1.1],"labelExpr":"round(datum.value*100) % 20 == 0 ? format(datum.value, '.1f') : ''","title":"10⁶ Phot./cm²/s/Å","titleFontSize":19,"titlePadding":12,"tickSize":{"condition":{"test":"round(datum.value*100) % 20 == 0","value":-7},"value":-3.5}}},
  "detail":{"field":"s"}}},
 {"data":{"name":"spec"},"transform":[{"filter":"datum.p==5 && datum.s=='m'"}],"mark":{"type":"line","color":"#2e8b0a","strokeWidth":3,"interpolate":"monotone","clip":true},
  "encoding":{"x":{"field":"x","type":"quantitative","scale":{"domain":[3.3,6.077],"nice":false,"zero":false},"axis":{"orient":"top","values":[3.4,3.5,3.6,3.7,3.8,3.9,4.0,4.1,4.2,4.3,4.4,4.5,4.6,4.7,4.8,4.9,5.0,5.1,5.2,5.3,5.4,5.5,5.6,5.7,5.8,5.9,6.0],"labels":false,"title":null,"tickSize":{"condition":{"test":"round(datum.value*10) % 5 == 0","value":-7},"value":-3.5}}},
  "y":{"field":"y","type":"quantitative","scale":{"domain":[0.01,1.135],"nice":false,"zero":false},"axis":{"orient":"right","values":[0.05,0.1,0.15,0.2,0.25,0.3,0.35,0.4,0.45,0.5,0.55,0.6,0.65,0.7,0.75,0.8,0.85,0.9,0.95,1.0,1.05,1.1],"labels":false,"title":null,"tickSize":{"condition":{"test":"round(datum.value*100) % 20 == 0","value":-7},"value":-3.5}}}}}],
 "resolve":{"axis":{"x":"independent","y":"independent"}}},
{"width":206,"height":144,"layer":[
 {"data":{"name":"dem"},"transform":[{"filter":"datum.p==6"}],"mark":{"type":"rect","filled":false,"color":"#0000ff","strokeWidth":2.6,"clip":true},
  "encoding":{"x":{"field":"a","type":"quantitative","scale":{"domain":[3,30],"nice":false,"zero":false},"axis":{"orient":"bottom","values":[3,4,5,6,7,8,9,10,11,12,13,14,15,16,17,18,19,20,21,22,23,24,25,26,27,28,29,30],"labels":false,"title":null,"tickSize":{"condition":{"test":"datum.value % 5 == 0","value":-7},"value":-3.5}}},
  "x2":{"field":"b"},
  "y":{"field":"t","type":"quantitative","scale":{"domain":[43.75,50.25],"nice":false,"zero":false},"axis":{"orient":"left","values":[44,44.5,45,45.5,46,46.5,47,47.5,48,48.5,49,49.5,50],"labelExpr":"datum.value % 1 == 0 ? format(datum.value, 'd') : ''","title":"Log DEM","titlePadding":8,"tickSize":{"condition":{"test":"datum.value % 1 == 0","value":-7},"value":-3.5}}},
  "y2":{"datum":43}}},
 {"data":{"name":"fit"},"transform":[{"filter":"datum.p==6"}],"mark":{"type":"line","color":"#d40000","strokeWidth":3,"clip":true},
  "encoding":{"x":{"field":"t","type":"quantitative","scale":{"domain":[3,30],"nice":false,"zero":false},"axis":{"orient":"top","values":[3,4,5,6,7,8,9,10,11,12,13,14,15,16,17,18,19,20,21,22,23,24,25,26,27,28,29,30],"labels":false,"title":null,"tickSize":{"condition":{"test":"datum.value % 5 == 0","value":-7},"value":-3.5}}},
  "y":{"field":"d","type":"quantitative","scale":{"domain":[43.75,50.25],"nice":false,"zero":false},"axis":{"orient":"right","values":[44,44.5,45,45.5,46,46.5,47,47.5,48,48.5,49,49.5,50],"labels":false,"title":null,"tickSize":{"condition":{"test":"datum.value % 1 == 0","value":-7},"value":-3.5}}},
  "detail":{"field":"s"}}}],
 "resolve":{"axis":{"x":"independent","y":"independent"}}},
{"width":610,"height":144,"title":{"text":"05:02:49 UT – 05:12:39 UT","anchor":"start","frame":"group","offset":-64,"baseline":"alphabetic","dx":44},"layer":[
 {"data":{"name":"spec"},"transform":[{"filter":"datum.p==6 && datum.s!='m'"}],"mark":{"type":"line","color":"#000000","strokeWidth":3.5,"clip":true},
  "encoding":{"x":{"field":"x","type":"quantitative","scale":{"domain":[3.3,6.077],"nice":false,"zero":false},"axis":{"orient":"bottom","values":[3.4,3.5,3.6,3.7,3.8,3.9,4.0,4.1,4.2,4.3,4.4,4.5,4.6,4.7,4.8,4.9,5.0,5.1,5.2,5.3,5.4,5.5,5.6,5.7,5.8,5.9,6.0],"labels":false,"title":null,"tickSize":{"condition":{"test":"round(datum.value*10) % 5 == 0","value":-7},"value":-3.5}}},
  "y":{"field":"y","type":"quantitative","scale":{"domain":[0.01,1.23],"nice":false,"zero":false},"axis":{"orient":"left","values":[0.05,0.1,0.15,0.2,0.25,0.3,0.35,0.4,0.45,0.5,0.55,0.6,0.65,0.7,0.75,0.8,0.85,0.9,0.95,1.0,1.05,1.1,1.15,1.2],"labelExpr":"round(datum.value*100) % 20 == 0 ? format(datum.value, '.1f') : ''","title":"10⁶ Phot./cm²/s/Å","titleFontSize":19,"titlePadding":12,"tickSize":{"condition":{"test":"round(datum.value*100) % 20 == 0","value":-7},"value":-3.5}}},
  "detail":{"field":"s"}}},
 {"data":{"name":"spec"},"transform":[{"filter":"datum.p==6 && datum.s=='m'"}],"mark":{"type":"line","color":"#2e8b0a","strokeWidth":3,"interpolate":"monotone","clip":true},
  "encoding":{"x":{"field":"x","type":"quantitative","scale":{"domain":[3.3,6.077],"nice":false,"zero":false},"axis":{"orient":"top","values":[3.4,3.5,3.6,3.7,3.8,3.9,4.0,4.1,4.2,4.3,4.4,4.5,4.6,4.7,4.8,4.9,5.0,5.1,5.2,5.3,5.4,5.5,5.6,5.7,5.8,5.9,6.0],"labels":false,"title":null,"tickSize":{"condition":{"test":"round(datum.value*10) % 5 == 0","value":-7},"value":-3.5}}},
  "y":{"field":"y","type":"quantitative","scale":{"domain":[0.01,1.23],"nice":false,"zero":false},"axis":{"orient":"right","values":[0.05,0.1,0.15,0.2,0.25,0.3,0.35,0.4,0.45,0.5,0.55,0.6,0.65,0.7,0.75,0.8,0.85,0.9,0.95,1.0,1.05,1.1,1.15,1.2],"labels":false,"title":null,"tickSize":{"condition":{"test":"round(datum.value*100) % 20 == 0","value":-7},"value":-3.5}}}}}],
 "resolve":{"axis":{"x":"independent","y":"independent"}}},
{"width":206,"height":144,"layer":[
 {"data":{"name":"dem"},"transform":[{"filter":"datum.p==7"}],"mark":{"type":"rect","filled":false,"color":"#0000ff","strokeWidth":2.6,"clip":true},
  "encoding":{"x":{"field":"a","type":"quantitative","scale":{"domain":[3,30],"nice":false,"zero":false},"axis":{"orient":"bottom","values":[3,4,5,6,7,8,9,10,11,12,13,14,15,16,17,18,19,20,21,22,23,24,25,26,27,28,29,30],"labels":false,"title":null,"tickSize":{"condition":{"test":"datum.value % 5 == 0","value":-7},"value":-3.5}}},
  "x2":{"field":"b"},
  "y":{"field":"t","type":"quantitative","scale":{"domain":[43.75,50.25],"nice":false,"zero":false},"axis":{"orient":"left","values":[44,44.5,45,45.5,46,46.5,47,47.5,48,48.5,49,49.5,50],"labelExpr":"datum.value % 1 == 0 ? format(datum.value, 'd') : ''","title":"Log DEM","titlePadding":8,"tickSize":{"condition":{"test":"datum.value % 1 == 0","value":-7},"value":-3.5}}},
  "y2":{"datum":43}}},
 {"data":{"name":"fit"},"transform":[{"filter":"datum.p==7"}],"mark":{"type":"line","color":"#d40000","strokeWidth":3,"clip":true},
  "encoding":{"x":{"field":"t","type":"quantitative","scale":{"domain":[3,30],"nice":false,"zero":false},"axis":{"orient":"top","values":[3,4,5,6,7,8,9,10,11,12,13,14,15,16,17,18,19,20,21,22,23,24,25,26,27,28,29,30],"labels":false,"title":null,"tickSize":{"condition":{"test":"datum.value % 5 == 0","value":-7},"value":-3.5}}},
  "y":{"field":"d","type":"quantitative","scale":{"domain":[43.75,50.25],"nice":false,"zero":false},"axis":{"orient":"right","values":[44,44.5,45,45.5,46,46.5,47,47.5,48,48.5,49,49.5,50],"labels":false,"title":null,"tickSize":{"condition":{"test":"datum.value % 1 == 0","value":-7},"value":-3.5}}},
  "detail":{"field":"s"}}}],
 "resolve":{"axis":{"x":"independent","y":"independent"}}},
{"width":610,"height":144,"title":{"text":"05:50:28 UT – 06:32:48 UT","anchor":"start","frame":"group","offset":-64,"baseline":"alphabetic","dx":44},"layer":[
 {"data":{"name":"spec"},"transform":[{"filter":"datum.p==7 && datum.s!='m'"}],"mark":{"type":"line","color":"#000000","strokeWidth":3.5,"clip":true},
  "encoding":{"x":{"field":"x","type":"quantitative","scale":{"domain":[3.3,6.077],"nice":false,"zero":false},"axis":{"orient":"bottom","values":[3.4,3.5,3.6,3.7,3.8,3.9,4.0,4.1,4.2,4.3,4.4,4.5,4.6,4.7,4.8,4.9,5.0,5.1,5.2,5.3,5.4,5.5,5.6,5.7,5.8,5.9,6.0],"labels":false,"title":null,"tickSize":{"condition":{"test":"round(datum.value*10) % 5 == 0","value":-7},"value":-3.5}}},
  "y":{"field":"y","type":"quantitative","scale":{"domain":[0.005,0.414],"nice":false,"zero":false},"axis":{"orient":"left","values":[0.02,0.04,0.06,0.08,0.1,0.12,0.14,0.16,0.18,0.2,0.22,0.24,0.26,0.28,0.3,0.32,0.34,0.36,0.38,0.4],"labelExpr":"round(datum.value*100) % 10 == 0 ? format(datum.value, '.1f') : ''","title":"10⁶ Phot./cm²/s/Å","titleFontSize":19,"titlePadding":12,"tickSize":{"condition":{"test":"round(datum.value*100) % 10 == 0","value":-7},"value":-3.5}}},
  "detail":{"field":"s"}}},
 {"data":{"name":"spec"},"transform":[{"filter":"datum.p==7 && datum.s=='m'"}],"mark":{"type":"line","color":"#2e8b0a","strokeWidth":3,"interpolate":"monotone","clip":true},
  "encoding":{"x":{"field":"x","type":"quantitative","scale":{"domain":[3.3,6.077],"nice":false,"zero":false},"axis":{"orient":"top","values":[3.4,3.5,3.6,3.7,3.8,3.9,4.0,4.1,4.2,4.3,4.4,4.5,4.6,4.7,4.8,4.9,5.0,5.1,5.2,5.3,5.4,5.5,5.6,5.7,5.8,5.9,6.0],"labels":false,"title":null,"tickSize":{"condition":{"test":"round(datum.value*10) % 5 == 0","value":-7},"value":-3.5}}},
  "y":{"field":"y","type":"quantitative","scale":{"domain":[0.005,0.414],"nice":false,"zero":false},"axis":{"orient":"right","values":[0.02,0.04,0.06,0.08,0.1,0.12,0.14,0.16,0.18,0.2,0.22,0.24,0.26,0.28,0.3,0.32,0.34,0.36,0.38,0.4],"labels":false,"title":null,"tickSize":{"condition":{"test":"round(datum.value*100) % 10 == 0","value":-7},"value":-3.5}}}}}],
 "resolve":{"axis":{"x":"independent","y":"independent"}}},
{"width":206,"height":144,"layer":[
 {"data":{"name":"dem"},"transform":[{"filter":"datum.p==8"}],"mark":{"type":"rect","filled":false,"color":"#0000ff","strokeWidth":2.6,"clip":true},
  "encoding":{"x":{"field":"a","type":"quantitative","scale":{"domain":[3,30],"nice":false,"zero":false},"axis":{"orient":"bottom","values":[3,4,5,6,7,8,9,10,11,12,13,14,15,16,17,18,19,20,21,22,23,24,25,26,27,28,29,30],"labels":false,"title":null,"tickSize":{"condition":{"test":"datum.value % 5 == 0","value":-7},"value":-3.5}}},
  "x2":{"field":"b"},
  "y":{"field":"t","type":"quantitative","scale":{"domain":[43.75,50.25],"nice":false,"zero":false},"axis":{"orient":"left","values":[44,44.5,45,45.5,46,46.5,47,47.5,48,48.5,49,49.5,50],"labelExpr":"datum.value % 1 == 0 ? format(datum.value, 'd') : ''","title":"Log DEM","titlePadding":8,"tickSize":{"condition":{"test":"datum.value % 1 == 0","value":-7},"value":-3.5}}},
  "y2":{"datum":43}}},
 {"data":{"name":"fit"},"transform":[{"filter":"datum.p==8"}],"mark":{"type":"line","color":"#d40000","strokeWidth":3,"clip":true},
  "encoding":{"x":{"field":"t","type":"quantitative","scale":{"domain":[3,30],"nice":false,"zero":false},"axis":{"orient":"top","values":[3,4,5,6,7,8,9,10,11,12,13,14,15,16,17,18,19,20,21,22,23,24,25,26,27,28,29,30],"labels":false,"title":null,"tickSize":{"condition":{"test":"datum.value % 5 == 0","value":-7},"value":-3.5}}},
  "y":{"field":"d","type":"quantitative","scale":{"domain":[43.75,50.25],"nice":false,"zero":false},"axis":{"orient":"right","values":[44,44.5,45,45.5,46,46.5,47,47.5,48,48.5,49,49.5,50],"labels":false,"title":null,"tickSize":{"condition":{"test":"datum.value % 1 == 0","value":-7},"value":-3.5}}},
  "detail":{"field":"s"}}}],
 "resolve":{"axis":{"x":"independent","y":"independent"}}},
{"width":610,"height":144,"title":{"text":"06:37:28 UT – 06:46:48 UT","anchor":"start","frame":"group","offset":-64,"baseline":"alphabetic","dx":44},"layer":[
 {"data":{"name":"spec"},"transform":[{"filter":"datum.p==8 && datum.s!='m'"}],"mark":{"type":"line","color":"#000000","strokeWidth":3.5,"clip":true},
  "encoding":{"x":{"field":"x","type":"quantitative","scale":{"domain":[3.3,6.077],"nice":false,"zero":false},"axis":{"orient":"bottom","values":[3.4,3.5,3.6,3.7,3.8,3.9,4.0,4.1,4.2,4.3,4.4,4.5,4.6,4.7,4.8,4.9,5.0,5.1,5.2,5.3,5.4,5.5,5.6,5.7,5.8,5.9,6.0],"labels":false,"title":null,"tickSize":{"condition":{"test":"round(datum.value*10) % 5 == 0","value":-7},"value":-3.5}}},
  "y":{"field":"y","type":"quantitative","scale":{"domain":[0.015,1.05],"nice":false,"zero":false},"axis":{"orient":"left","values":[0.05,0.1,0.15,0.2,0.25,0.3,0.35,0.4,0.45,0.5,0.55,0.6,0.65,0.7,0.75,0.8,0.85,0.9,0.95,1.0],"labelExpr":"round(datum.value*100) % 20 == 0 ? format(datum.value, '.1f') : ''","title":"10⁶ Phot./cm²/s/Å","titleFontSize":19,"titlePadding":12,"tickSize":{"condition":{"test":"round(datum.value*100) % 20 == 0","value":-7},"value":-3.5}}},
  "detail":{"field":"s"}}},
 {"data":{"name":"spec"},"transform":[{"filter":"datum.p==8 && datum.s=='m'"}],"mark":{"type":"line","color":"#2e8b0a","strokeWidth":3,"interpolate":"monotone","clip":true},
  "encoding":{"x":{"field":"x","type":"quantitative","scale":{"domain":[3.3,6.077],"nice":false,"zero":false},"axis":{"orient":"top","values":[3.4,3.5,3.6,3.7,3.8,3.9,4.0,4.1,4.2,4.3,4.4,4.5,4.6,4.7,4.8,4.9,5.0,5.1,5.2,5.3,5.4,5.5,5.6,5.7,5.8,5.9,6.0],"labels":false,"title":null,"tickSize":{"condition":{"test":"round(datum.value*10) % 5 == 0","value":-7},"value":-3.5}}},
  "y":{"field":"y","type":"quantitative","scale":{"domain":[0.015,1.05],"nice":false,"zero":false},"axis":{"orient":"right","values":[0.05,0.1,0.15,0.2,0.25,0.3,0.35,0.4,0.45,0.5,0.55,0.6,0.65,0.7,0.75,0.8,0.85,0.9,0.95,1.0],"labels":false,"title":null,"tickSize":{"condition":{"test":"round(datum.value*100) % 20 == 0","value":-7},"value":-3.5}}}}}],
 "resolve":{"axis":{"x":"independent","y":"independent"}}},
{"width":206,"height":144,"layer":[
 {"data":{"name":"dem"},"transform":[{"filter":"datum.p==9"}],"mark":{"type":"rect","filled":false,"color":"#0000ff","strokeWidth":2.6,"clip":true},
  "encoding":{"x":{"field":"a","type":"quantitative","scale":{"domain":[3,30],"nice":false,"zero":false},"axis":{"orient":"bottom","values":[3,4,5,6,7,8,9,10,11,12,13,14,15,16,17,18,19,20,21,22,23,24,25,26,27,28,29,30],"labelExpr":"datum.value % 5 == 0 ? format(datum.value, 'd') : ''","labelPadding":12,"title":"Te [MK]","titlePadding":-2,"tickSize":{"condition":{"test":"datum.value % 5 == 0","value":-7},"value":-3.5}}},
  "x2":{"field":"b"},
  "y":{"field":"t","type":"quantitative","scale":{"domain":[43.75,50.25],"nice":false,"zero":false},"axis":{"orient":"left","values":[44,44.5,45,45.5,46,46.5,47,47.5,48,48.5,49,49.5,50],"labelExpr":"datum.value % 1 == 0 ? format(datum.value, 'd') : ''","title":"Log DEM","titlePadding":8,"tickSize":{"condition":{"test":"datum.value % 1 == 0","value":-7},"value":-3.5}}},
  "y2":{"datum":43}}},
 {"data":{"name":"fit"},"transform":[{"filter":"datum.p==9"}],"mark":{"type":"line","color":"#d40000","strokeWidth":3,"clip":true},
  "encoding":{"x":{"field":"t","type":"quantitative","scale":{"domain":[3,30],"nice":false,"zero":false},"axis":{"orient":"top","values":[3,4,5,6,7,8,9,10,11,12,13,14,15,16,17,18,19,20,21,22,23,24,25,26,27,28,29,30],"labels":false,"title":null,"tickSize":{"condition":{"test":"datum.value % 5 == 0","value":-7},"value":-3.5}}},
  "y":{"field":"d","type":"quantitative","scale":{"domain":[43.75,50.25],"nice":false,"zero":false},"axis":{"orient":"right","values":[44,44.5,45,45.5,46,46.5,47,47.5,48,48.5,49,49.5,50],"labels":false,"title":null,"tickSize":{"condition":{"test":"datum.value % 1 == 0","value":-7},"value":-3.5}}},
  "detail":{"field":"s"}}}],
 "resolve":{"axis":{"x":"independent","y":"independent"}}},
{"width":610,"height":144,"title":{"text":"07:25:18 UT – 07:39:48 UT","anchor":"start","frame":"group","offset":-64,"baseline":"alphabetic","dx":44},"layer":[
 {"data":{"name":"spec"},"transform":[{"filter":"datum.p==9 && datum.s!='m'"}],"mark":{"type":"line","color":"#000000","strokeWidth":3.5,"clip":true},
  "encoding":{"x":{"field":"x","type":"quantitative","scale":{"domain":[3.3,6.077],"nice":false,"zero":false},"axis":{"orient":"bottom","values":[3.4,3.5,3.6,3.7,3.8,3.9,4.0,4.1,4.2,4.3,4.4,4.5,4.6,4.7,4.8,4.9,5.0,5.1,5.2,5.3,5.4,5.5,5.6,5.7,5.8,5.9,6.0],"labelExpr":"round(datum.value*10) % 5 == 0 ? format(datum.value, '.1f') : ''","labelPadding":12,"title":"Wavelength [Å]","titlePadding":-2,"tickSize":{"condition":{"test":"round(datum.value*10) % 5 == 0","value":-7},"value":-3.5}}},
  "y":{"field":"y","type":"quantitative","scale":{"domain":[0.01,2.56],"nice":false,"zero":false},"axis":{"orient":"left","values":[0.1,0.2,0.3,0.4,0.5,0.6,0.7,0.8,0.9,1.0,1.1,1.2,1.3,1.4,1.5,1.6,1.7,1.8,1.9,2.0,2.1,2.2,2.3,2.4,2.5],"labelExpr":"round(datum.value*10) % 5 == 0 ? format(datum.value, '.1f') : ''","title":"10⁶ Phot./cm²/s/Å","titleFontSize":19,"titlePadding":12,"tickSize":{"condition":{"test":"round(datum.value*10) % 5 == 0","value":-7},"value":-3.5}}},
  "detail":{"field":"s"}}},
 {"data":{"name":"spec"},"transform":[{"filter":"datum.p==9 && datum.s=='m'"}],"mark":{"type":"line","color":"#2e8b0a","strokeWidth":3,"interpolate":"monotone","clip":true},
  "encoding":{"x":{"field":"x","type":"quantitative","scale":{"domain":[3.3,6.077],"nice":false,"zero":false},"axis":{"orient":"top","values":[3.4,3.5,3.6,3.7,3.8,3.9,4.0,4.1,4.2,4.3,4.4,4.5,4.6,4.7,4.8,4.9,5.0,5.1,5.2,5.3,5.4,5.5,5.6,5.7,5.8,5.9,6.0],"labels":false,"title":null,"tickSize":{"condition":{"test":"round(datum.value*10) % 5 == 0","value":-7},"value":-3.5}}},
  "y":{"field":"y","type":"quantitative","scale":{"domain":[0.01,2.56],"nice":false,"zero":false},"axis":{"orient":"right","values":[0.1,0.2,0.3,0.4,0.5,0.6,0.7,0.8,0.9,1.0,1.1,1.2,1.3,1.4,1.5,1.6,1.7,1.8,1.9,2.0,2.1,2.2,2.3,2.4,2.5],"labels":false,"title":null,"tickSize":{"condition":{"test":"round(datum.value*10) % 5 == 0","value":-7},"value":-3.5}}}}}],
 "resolve":{"axis":{"x":"independent","y":"independent"}}}
]
}
